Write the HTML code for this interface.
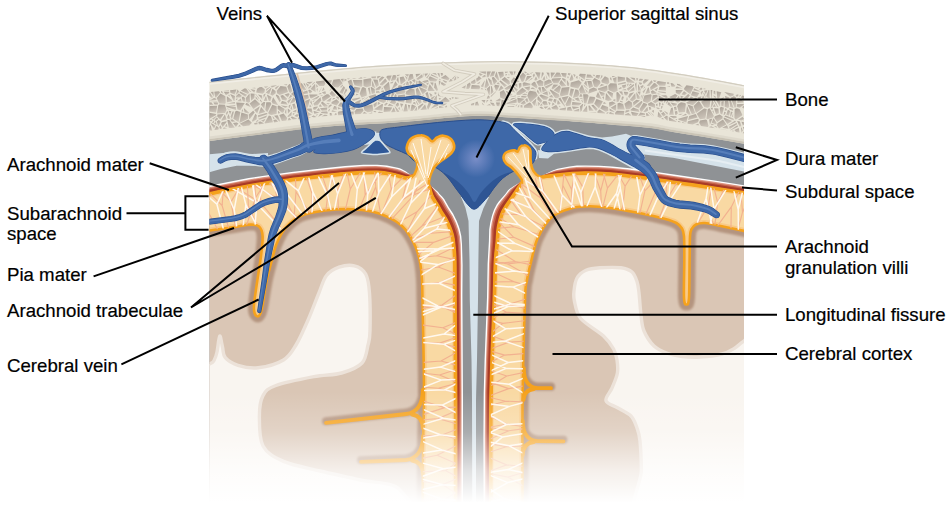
<!DOCTYPE html>
<html lang="en"><head><meta charset="utf-8"><title>Meninges</title>
<style>html,body{margin:0;padding:0;background:#fff}body{width:949px;height:515px;overflow:hidden;position:relative}</style></head>
<body>
<svg width="949" height="515" viewBox="0 0 949 515" style="position:absolute;left:0;top:0">
<defs>
<clipPath id="ill"><path d="M209.5 0H744V515H209.5Z"/></clipPath>
<path id="saL" d="M195 196.5C197.4 196 200.3 195.5 209.5 193.7C218.7 191.9 237.6 187.8 250 185.7C262.4 183.5 275.5 182 284 180.8C292.5 179.6 290.5 179.8 301 178.6C311.5 177.4 334.3 174.6 347 173.6C359.7 172.6 369 172.2 377 172.4C385 172.6 390.2 174.1 395 175C399.8 175.9 403.1 177.8 406 178C408.9 178.2 410.9 177.5 412.6 176.2C414.3 174.9 415.6 172.3 416.3 170.1C417.1 167.9 417.6 165 417.1 162.8C416.6 160.7 414.6 158.8 413.1 157.2C411.7 155.6 409.4 155.1 408.4 153.4C407.3 151.7 406.3 149.5 406.8 147C407.3 144.5 409.1 140.3 411.5 138.3C413.9 136.3 418.3 135.3 421 135.2C423.7 135 425.6 136.3 427.5 137.4C429.4 138.5 430.5 141.5 432.1 141.5C433.7 141.5 435.1 138.5 437 137.5C438.9 136.5 440.8 135.4 443.2 135.7C445.6 136 449.3 137.3 451.1 139.2C452.9 141.1 454.2 144.6 454.2 147C454.2 149.4 452.7 151.5 451.1 153.4C449.5 155.3 447.2 156.4 444.8 158.2C442.4 160 438.9 162.3 436.8 164.4C434.7 166.5 433.5 168.2 432.3 170.6C431.1 173 430.1 176.1 429.5 178.6C428.9 181.1 428.6 182.6 429 185.5C429.4 188.4 430.6 192.8 431.8 195.8C433.1 198.8 435 201.1 436.5 203.7C438 206.3 439.4 209 441 211.6C442.6 214.2 444.6 216.9 446 219.5C447.4 222.1 448.6 224.8 449.6 227.4C450.6 230 451.5 232.2 452.2 235C452.9 237.8 453.2 239.7 453.6 244C454 248.3 454.6 251.7 454.8 261C455 270.3 454.9 276.8 455 300C455.1 323.2 455.5 363.3 455.6 400C455.7 436.7 455.6 500 455.6 520L422.5 520C422.6 508.3 422.8 470 423 450C423.2 430 423.9 416.7 424 400C424.1 383.3 423.8 366.7 423.5 350C423.2 333.3 422.8 311.7 422.5 300C422.2 288.3 422.4 286.3 422 280C421.6 273.7 421 267.3 420 262C419 256.7 417.7 252.3 416 248C414.3 243.7 412.3 239.7 410 236C407.7 232.3 405.4 229 402 226C398.6 223 394.7 220.2 389.7 217.8C384.7 215.4 378.3 213 372 211.6C365.7 210.2 359.5 209.4 351.7 209.2C343.9 209 333.4 209.4 325 210.5C316.6 211.6 307.7 212.8 301 215.8C294.3 218.8 289.1 223.9 285 228.6C280.9 233.3 278.6 239.1 276.5 244C274.4 248.9 274.1 252 272.5 258C270.9 264 268.4 272.2 266.8 280C265.2 287.8 263.6 299.5 262.6 305C261.6 310.5 261.4 311.1 260.6 313C259.8 314.9 258.8 316.5 257.8 316.5C256.8 316.5 255.2 314.9 254.6 313C254 311.1 253.6 310.4 254 305C254.4 299.6 256.1 288.8 257.3 280.6C258.5 272.4 260.1 263.4 261 256C261.9 248.6 262.9 240.9 262.6 236C262.3 231.1 261 228.4 259 226.5C257 224.6 254.8 224.5 250.6 224.6C246.4 224.7 240.8 226 234 227C227.2 228 216 229.6 209.5 230.5C203 231.4 197.4 232.2 195 232.5Z"/><path id="saR" d="M491 520C491 500 490.4 436.7 491 400C491.6 363.3 493.6 323.2 494.3 300C495.1 276.8 495 270.5 495.5 261C496 251.5 496.7 248.8 497.2 243.2C497.7 237.6 497.5 232.7 498.5 227.4C499.5 222.1 500.5 216.9 503 211.6C505.5 206.3 510.1 200.7 513.3 195.8C516.5 191 521.2 186.1 522 182.5C522.8 178.9 519.6 176.9 518 174.5C516.4 172.1 514.2 169.9 512.2 168C510.2 166.1 507.3 164.9 505.9 163.2C504.4 161.5 503.6 159.6 503.5 158C503.4 156.4 504.1 154.6 505 153.5C505.9 152.4 507.4 151.7 509 151.2C510.6 150.7 513 150.2 514.5 150.3C516 150.4 516.8 152.2 517.7 151.6C518.6 151 519 148.1 520 147C521 145.9 522.7 145.2 524 145.2C525.3 145.1 526.9 145.8 528 146.7C529.1 147.6 530 148.4 530.4 150.6C530.8 152.8 530.3 157.1 530.6 160C530.9 162.9 531.1 165.6 532 168C532.9 170.4 534.3 172.8 536 174.3C537.7 175.8 538.2 176.9 542.2 177C546.2 177.1 553.9 175.4 560 174.8C566.1 174.2 570.7 173.3 579 173.2C587.3 173.1 598.2 173.1 610 174C621.8 174.9 639.5 177.3 650 178.7C660.5 180.1 664.7 181 673 182.2C681.3 183.4 688.2 184.2 700 186C711.8 187.8 734 191.2 744 192.8C754 194.4 757.3 195.1 760 195.5L760 234.5C757.3 233.9 750.6 232.3 744 230.9C737.4 229.5 727.1 227.3 720.6 226C714.1 224.7 708.9 223.2 704.8 223C700.7 222.8 698.2 223.4 696 224.5C693.8 225.6 692.4 227.3 691.4 229.3C690.4 231.3 690.3 231.3 690 236.4C689.7 241.5 689.8 249.7 689.6 260C689.4 270.3 689.5 290.6 689 298C688.5 305.4 687.3 304.5 686.5 304.5C685.7 304.5 684.4 305.4 684 298C683.6 290.6 684.3 270.3 684.3 260C684.3 249.7 684.4 241.7 684 236.4C683.6 231.2 683.3 230.7 682 228.5C680.7 226.3 679.2 224.6 676.4 223C673.6 221.4 671.1 220.6 665.3 219C659.5 217.4 650.8 215.3 641.6 213.5C632.4 211.7 618.6 209.2 610 208C601.4 206.8 596.3 206.3 590 206.3C583.7 206.3 578.4 206.2 572 208C565.6 209.8 557.4 212 551.7 217C546 222 541.2 230.8 537.8 238C534.4 245.2 533.3 253 531.5 260C529.7 267 528.1 273.3 527 280C525.9 286.7 525.7 280 525 300C524.3 320 523 363.3 522.6 400C522.2 436.7 522.6 500 522.6 520Z"/>
<clipPath id="cSaL"><use href="#saL"/></clipPath>
<clipPath id="cSaR"><use href="#saR"/></clipPath>
<linearGradient id="fade" x1="0" y1="0" x2="0" y2="1"><stop offset="0" stop-color="#fff" stop-opacity="0"/><stop offset="0.36" stop-color="#fff" stop-opacity="0.24"/><stop offset="0.7" stop-color="#fff" stop-opacity="0.72"/><stop offset="1" stop-color="#fff" stop-opacity="1"/></linearGradient>
<radialGradient id="sinHi" cx="476" cy="158.5" r="19" gradientUnits="userSpaceOnUse"><stop offset="0" stop-color="#7a8ec8"/><stop offset="1" stop-color="#7a8ec8" stop-opacity="0"/></radialGradient>
<filter id="b1" x="-20%" y="-20%" width="140%" height="140%"><feGaussianBlur stdDeviation="0.8"/></filter>
<linearGradient id="cg" x1="0" y1="0" x2="0.3" y2="1"><stop offset="0" stop-color="#a9a096"/><stop offset="1" stop-color="#cbc3b8"/></linearGradient>
</defs>
<rect width="949" height="515" fill="#fff"/>
<g clip-path="url(#ill)">
<rect x="200" y="100" width="560" height="420" fill="#8f9295"/>
<path d="M195 196.5C197.4 196 200.3 195.5 209.5 193.7C218.7 191.9 237.6 187.8 250 185.7C262.4 183.5 275.5 182 284 180.8C292.5 179.6 290.5 179.8 301 178.6C311.5 177.4 334.3 174.6 347 173.6C359.7 172.6 369 172.2 377 172.4C385 172.6 390.2 174.1 395 175C399.8 175.9 403.1 177.8 406 178C408.9 178.2 408.8 174.9 412.6 176.2C416.4 177.4 425.8 182.2 429 185.5C432.2 188.8 430.6 192.8 431.8 195.8C433.1 198.8 435 201.1 436.5 203.7C438 206.3 439.4 209 441 211.6C442.6 214.2 444.6 216.9 446 219.5C447.4 222.1 448.6 224.8 449.6 227.4C450.6 230 451.5 232.2 452.2 235C452.9 237.8 453.2 239.7 453.6 244C454 248.3 454.6 251.7 454.8 261C455 270.3 454.9 276.8 455 300C455.1 323.2 455.5 363.3 455.6 400C455.7 436.7 455.6 500 455.6 520L455.6 520L195 520Z" fill="#dac6b5"/>
<path d="M491 520C491 500 490.4 436.7 491 400C491.6 363.3 493.6 323.2 494.3 300C495.1 276.8 495 270.5 495.5 261C496 251.5 496.7 248.8 497.2 243.2C497.7 237.6 497.5 232.7 498.5 227.4C499.5 222.1 500.5 216.9 503 211.6C505.5 206.3 510.1 200.7 513.3 195.8C516.5 191 517.2 185.6 522 182.5C526.8 179.4 535.9 178.3 542.2 177C548.5 175.7 553.9 175.4 560 174.8C566.1 174.2 570.7 173.3 579 173.2C587.3 173.1 598.2 173.1 610 174C621.8 174.9 639.5 177.3 650 178.7C660.5 180.1 664.7 181 673 182.2C681.3 183.4 688.2 184.2 700 186C711.8 187.8 734 191.2 744 192.8C754 194.4 757.3 195.1 760 195.5L760 520L490.5 520Z" fill="#dac6b5"/>
<path d="M339 267.2C343.6 265.6 349.9 264.7 354.3 265.8C358.8 266.9 363.2 269.5 365.7 274C368.2 278.5 368.8 283.5 369.5 293C370.2 302.5 370.2 322.3 370 331C369.8 339.7 369.3 339.7 368 345C366.7 350.3 366.4 358.3 362 363C357.6 367.7 349.6 370.7 341.6 373C333.6 375.3 324.8 374.6 313.8 376.7C302.9 378.8 284.4 382.4 275.9 385.5C267.4 388.6 265.8 390.5 263 395.6C260.2 400.7 259.4 407.6 259.4 416C259.4 424.4 259 438.4 263 446C267 453.6 274 457.2 283.5 461.4C293 465.6 307.2 467.9 320 471C332.8 474.1 346.7 476.8 360 480C373.3 483.2 393.3 481.7 400 490C406.7 498.3 435 523.3 400 530C365 536.7 225 556.3 190 530C155 503.7 186.8 399.7 190 372C193.2 344.3 205.5 365.9 209.5 364C213.5 362.1 212.8 362.5 214 360.5C215.2 358.5 216.1 356.1 217 352C217.9 347.9 218.8 336.8 219.7 336C220.6 335.2 221.6 343.4 222.5 347C223.4 350.6 222.7 354.6 225.3 357.7C227.9 360.8 232.6 363.6 238 365.3C243.4 367 250.4 368.7 258 367.8C265.6 366.9 277.2 363.8 283.5 360C289.8 356.2 291.8 351.9 296 345C300.2 338.1 304.9 327.2 308.7 318.5C312.5 309.8 315.9 300.2 318.9 293C321.9 285.8 323.1 279.8 326.5 275.5C329.9 271.2 334.4 268.8 339 267.2Z" fill="#f9f5f0" stroke="#ece2d9" stroke-width="3.4"/>
<path d="M574 291C574.4 287.2 575 281.4 577 278C579 274.6 582.2 272 586 270.3C589.8 268.6 594.2 268.2 600 267.8C605.8 267.4 615.7 267.1 621 267.8C626.3 268.5 629.3 269.7 632 272C634.7 274.3 635.8 278 637 281.5C638.2 285 638.3 287.4 639 293C639.7 298.6 640.2 308.7 641 315C641.8 321.3 641.8 325.8 644 331C646.2 336.2 650 342.2 654 346C658 349.8 663.3 351.8 668 353.5C672.7 355.2 676.7 355.9 682 356.5C687.3 357.1 693.3 357.4 700 357C706.7 356.6 716.2 355.5 722 354C727.8 352.5 731.3 350.2 735 348C738.7 345.8 739 344 744 341C749 338 761.5 298.5 765 330C768.5 361.5 785.7 496.7 765 530C744.3 563.3 661.6 540 641 530C620.4 520 641.6 484.8 641.4 470C641.2 455.2 640.7 448 640 441C639.3 434 638.5 432.2 637 428C635.5 423.8 634.2 419.3 631 416C627.8 412.7 622.2 410.6 618 408C613.8 405.4 607 404 606 400.7C605 397.4 610.1 392.6 612 388C613.9 383.4 616.6 377.7 617.4 373C618.2 368.3 617.6 364 617 360C616.4 356 615.9 353 613.6 349C611.4 345 609 341.1 603.5 336C598 330.9 585.6 324.3 580.7 318.5C575.9 312.7 575.5 305.6 574.4 301C573.3 296.4 573.6 294.8 574 291Z" fill="#f9f5f0" stroke="#ece2d9" stroke-width="3.4"/>
<g fill="none" stroke="#b4947f" stroke-linecap="round" stroke-linejoin="round" filter="url(#b1)">
<path d="M195 232.5C197.4 232.2 203 231.4 209.5 230.5C216 229.6 227.2 228 234 227C240.8 226 246.4 224.7 250.6 224.6C254.8 224.5 257 224.6 259 226.5C261 228.4 262.3 231.1 262.6 236C262.9 240.9 261.9 248.6 261 256C260.1 263.4 258.5 272.4 257.3 280.6C256.1 288.8 254.4 299.6 254 305C253.6 310.4 254 311.1 254.6 313C255.2 314.9 256.8 316.5 257.8 316.5C258.8 316.5 259.8 314.9 260.6 313C261.4 311.1 261.6 310.5 262.6 305C263.6 299.5 265.2 287.8 266.8 280C268.4 272.2 270.9 264 272.5 258C274.1 252 274.4 248.9 276.5 244C278.6 239.1 280.9 233.3 285 228.6C289.1 223.9 294.3 218.8 301 215.8C307.7 212.8 316.6 211.6 325 210.5C333.4 209.4 343.9 209 351.7 209.2C359.5 209.4 365.7 210.2 372 211.6C378.3 213 384.7 215.4 389.7 217.8C394.7 220.2 398.6 223 402 226C405.4 229 407.7 232.3 410 236C412.3 239.7 414.3 243.7 416 248C417.7 252.3 419 256.7 420 262C421 267.3 421.6 273.7 422 280C422.4 286.3 422.2 288.3 422.5 300C422.8 311.7 423.2 333.3 423.5 350C423.8 366.7 424.1 383.3 424 400C423.9 416.7 423.2 430 423 450C422.8 470 422.6 508.3 422.5 520" stroke-width="12"/>
<path d="M522.6 520C522.6 500 522.2 436.7 522.6 400C523 363.3 524.3 320 525 300C525.7 280 525.9 286.7 527 280C528.1 273.3 529.7 267 531.5 260C533.3 253 534.4 245.2 537.8 238C541.2 230.8 546 222 551.7 217C557.4 212 565.6 209.8 572 208C578.4 206.2 583.7 206.3 590 206.3C596.3 206.3 601.4 206.8 610 208C618.6 209.2 632.4 211.7 641.6 213.5C650.8 215.3 659.5 217.4 665.3 219C671.1 220.6 673.6 221.4 676.4 223C679.2 224.6 680.7 226.3 682 228.5C683.3 230.7 683.6 231.2 684 236.4C684.4 241.7 684.3 249.7 684.3 260C684.3 270.3 683.6 290.6 684 298C684.4 305.4 685.7 304.5 686.5 304.5C687.3 304.5 688.5 305.4 689 298C689.5 290.6 689.4 270.3 689.6 260C689.8 249.7 689.7 241.5 690 236.4C690.3 231.3 690.4 231.3 691.4 229.3C692.4 227.3 693.8 225.6 696 224.5C698.2 223.4 700.7 222.8 704.8 223C708.9 223.2 714.1 224.7 720.6 226C727.1 227.3 737.4 229.5 744 230.9C750.6 232.3 757.3 233.9 760 234.5" stroke-width="12"/>
<path d="M422.8 390Q422.5 412 406 414L326 422.8" stroke-width="8" transform="translate(0,-1.6)"/>
<path d="M423 436Q422.5 458 406 460L361 461.8" stroke-width="8" transform="translate(0,-1.6)"/>
<path d="M523.8 368Q524 387 537 388L551 388.2" stroke-width="8" transform="translate(0,-1.6)"/>
<path d="M522.8 421Q523 440 537 441L563.5 441.3" stroke-width="8" transform="translate(0,-1.6)"/>
</g>
<path d="M195 156.2L209.5 154.3L228.7 152.6L252.4 154L268 153L268 165L252.4 165.8L236.6 165.8L220.8 169L209.4 172.2L195 175Z" fill="#d5e2ea"/>
<path d="M220.5 160.6C221.6 160.1 224.3 158 227 157.3C229.7 156.7 232.9 156.3 236.6 156.7C240.3 157.1 244.8 158.7 249.3 159.5C253.8 160.3 259.1 161.5 263.5 161.4C267.9 161.3 271.8 159.9 276 158.7C280.2 157.5 284.8 155.4 288.8 154C292.8 152.6 296.7 151.3 299.8 150C302.9 148.7 303.8 147.2 307.7 146C311.6 144.8 318.2 143.3 323.5 142.5C328.8 141.7 333.3 141.4 339.4 141C345.5 140.6 353.6 140.5 360 140C366.4 139.5 375 138.3 378 138" fill="none" stroke="#d5e2ea" stroke-width="10.6" stroke-linecap="round"/>
<path d="M518 130.6L534.9 144.6L537.2 145.6L539.4 145.6L541.5 144.9L539.8 148.2L540.1 150.2L538 150L539 158L548 158.5L554 153.7L564.7 152.6L585.8 149.3L593.2 149.3L598.6 150.5L606.8 154.1L639.8 172.4L641.2 172L642 171.1L642.2 162.7L644 161.3L645.1 159L645 156.5L643.8 154.5L673 157.8L765 175.5L765 168.6L766.7 168.3L768.5 167.3L770.1 164.2L769.5 160.8L766.8 158.5L725.8 147.9L713.1 145.2L703.7 144.1L689.4 143.5L677.1 142.2L636.4 135.1L633.5 135.1L630.9 135.8L626 133.8L612 136.5L602.1 137.6L589 135.6L568.3 129.4L561.2 129.9L555.4 132.3L553.5 129.6L550.6 127.3L546.8 125.5L543.6 124.6L531.4 122.6L520 121.6L513.7 122L512.3 122.9L511.6 124L508.4 121.7L503 120.2L501.6 120.8L501 122.2L501 158L502.1 159.8L535.3 160L537.1 159L538 153.6L537.7 151.5L535.9 148.2L531 142.6Z" fill="#d5e2ea"/>
<path d="M645 150.5C649.7 151.2 663.8 153.2 673 154.5C682.2 155.8 692.2 157.1 700 158.2C707.8 159.3 712.7 159.8 720 161.3C727.3 162.8 736.5 165.2 744 167C751.5 168.8 761.5 171.2 765 172" fill="none" stroke="#e6eef3" stroke-width="2"/>
<path d="M461 197L465.5 208L468.5 221L469.5 260L469.8 300L471.5 360L472 400L472.3 520L476 520L476 400L477 360L478 300L478.4 260L479 221L483.5 208L489 197Z" fill="#d5e2ea"/>
<path d="M379.8 133.8C380.1 132 379.6 130.5 383 129.3C386.4 128.2 392.2 127.9 400 126.9C407.8 125.9 420 124.3 430 123.3C440 122.2 451.7 121.2 460 120.6C468.3 120 474.2 119.7 480 119.8C485.8 119.9 490.4 120.4 495 121C499.6 121.6 504.3 122.1 507.5 123.5C510.7 124.9 511.8 127.5 514 129.6C516.2 131.7 518.4 133.8 520.5 135.8C522.6 137.8 524.9 139.7 526.8 141.5C528.7 143.3 530.5 144.8 532 146.6C533.5 148.4 535.3 150.1 535.8 152.2C536.3 154.3 535.8 156.9 535 159C534.2 161.1 533.2 163.5 531 165C528.8 166.5 525 166.9 522 168C519 169.1 515.6 170.2 513 171.5C510.4 172.8 508.5 174.1 506.5 175.5C504.5 176.9 503.1 177.9 501 180C498.9 182.1 496.1 185.4 494 188C491.9 190.6 490.5 193.3 488.5 195.8C486.5 198.3 484 201.1 482 203.2C480 205.3 478.2 207.5 476.5 208.4C474.8 209.3 473.8 209.6 472 208.6C470.2 207.6 467.8 204.6 466 202.5C464.2 200.4 463.1 198.2 461.4 195.8C459.6 193.4 457.4 190.6 455.5 188C453.6 185.4 451.9 182.6 449.8 180C447.7 177.4 445.6 174.7 443 172.5C440.4 170.3 436.8 168.2 434.3 166.6C431.8 165 431.2 163.8 428 163C424.8 162.2 418.8 162.9 415.3 161.5C411.8 160.1 410.2 156.3 407 154.3C403.8 152.3 399.3 151.1 396 149.5C392.7 147.9 389.4 146.6 387 145C384.6 143.4 382.7 141.9 381.5 140C380.3 138.1 379.6 135.6 379.8 133.8Z" fill="#3e68a8" stroke="#2a4f8e" stroke-width="1"/>
<path d="M443 172.5C443.5 172.2 449.8 175.8 453 178C456.2 180.2 459.3 182.8 462 185.5C464.7 188.2 466.9 191.2 469 194C471.1 196.8 472.7 202 474.5 202C476.3 202 477.8 196.8 480 194C482.2 191.2 484.8 187.9 488 185C491.2 182.1 494.8 178.8 499 176.5C503.2 174.2 511.8 171.7 513 171.5C514.2 171.3 508.5 174.1 506.5 175.5C504.5 176.9 503.1 177.9 501 180C498.9 182.1 496.1 185.4 494 188C491.9 190.6 490.5 193.3 488.5 195.8C486.5 198.3 484 201.1 482 203.2C480 205.3 478.2 207.5 476.5 208.4C474.8 209.3 473.8 209.6 472 208.6C470.2 207.6 467.8 204.6 466 202.5C464.2 200.4 463.1 198.2 461.4 195.8C459.6 193.4 457.4 190.6 455.5 188C453.6 185.4 451.9 182.6 449.8 180C447.7 177.4 442.5 172.8 443 172.5Z" fill="#2a4f8e" opacity="0.75"/>
<circle cx="476" cy="158.5" r="19" fill="url(#sinHi)"/>
<path d="M361.5 152.8C360.8 152.1 366.9 147.6 368 146.5C369.1 145.4 374 140.7 375 140.2C376 139.7 379.2 140 380 140.5C380.8 141 384.2 145 385 146C385.8 147 390.8 151.9 390 152.6C389.2 153.3 378.4 154.6 376 154.6C373.6 154.6 362.2 153.5 361.5 152.8Z" fill="#2f5898" stroke="#d5e2ea" stroke-width="1.5"/>
<path d="M375.5 131.5L374.6 140" stroke="#d5e2ea" stroke-width="1.8" fill="none"/>
<path d="M196.5 204.1L242.4 194.9L259.7 191.9L294.4 187.1L343.6 181.6L364.1 180.2L372 180L378.5 180.2L384.5 180.8L395.1 182.8L406 184.5L409.1 183.5L411.3 181.1L412.4 178.8L413.2 177.7L413.9 177.2L414.2 176.4L414.1 175.6L413.6 174.9L412.8 174.6L412 174.7L410.6 174.5L408.6 173.5L406 171.4L401 168.8L398.9 168.1L386.9 165.6L377.3 164.7L363.4 164.8L345 166L325.8 168L291.3 172L262.5 176L248.7 178.1L193.5 188.9L190 190.7L187.7 194L187.4 198L189.2 201.5L192.5 203.8Z" fill="#fff"/>
<path d="M196.2 202.7L242.1 193.6L259.5 190.6L294.2 185.7L343.5 180.2L364 178.8L372 178.6L378.6 178.8L386.1 179.6L401.9 182.8L406 183.4L409 182.5L411.2 180.6L412.4 178.7L413.9 177.2L414.2 176.4L414.1 175.6L413.6 174.9L412.8 174.6L410.7 174.6L408.8 174L400.6 170.1L396.3 168.8L385 166.7L375.9 166.1L362 166.3L345.2 167.4L325.9 169.4L292.6 173.2L262.7 177.3L248.9 179.5L193.8 190.3L190.9 191.7L189 194.4L188.8 197.7L190.2 200.6L192.9 202.5Z" fill="#dd9480"/>
<path d="M196 201.6L240.3 192.8L254.2 190.3L292.9 184.8L317 182L349.3 178.6L362.5 177.8L373.3 177.5L378.7 177.7L384.9 178.3L402.1 181.9L406 182.5L408.8 181.8L411 180.2L412.3 178.5L413.9 177.2L414.2 176.4L414.1 175.6L413.6 174.9L412.8 174.6L410.7 174.7L409 174.4L404.7 173L398.3 170.5L388.1 168.3L379.2 167.3L367.9 167.2L353.9 167.9L339.4 169.1L315.8 171.6L291.6 174.5L252.6 180L238.3 182.6L194 191.4L191.6 192.6L190.1 194.8L189.9 197.5L191.1 199.9L193.3 201.4Z" fill="#c4624a"/>
<path d="M195.7 200.3L240.1 191.5L255.7 188.7L292.8 183.5L328.8 179.3L344.7 177.7L356.2 176.8L368.1 176.3L376.9 176.3L382.1 176.7L386.5 177.3L396 179.2L402.4 180.9L406 181.4L408.7 180.9L410.8 179.7L413.9 177.2L414.2 176.4L414.1 175.6L413.6 174.9L412.8 174.6L409.1 174.9L406 174.6L399.9 172.3L395.8 171.2L386.3 169.3L379.2 168.6L369.3 168.5L357.3 168.9L344 169.9L327.9 171.6L291.8 175.8L254.5 181L238.6 183.9L194.3 192.7L192.4 193.6L191.3 195.2L191.2 197.2L192.1 199.1L193.7 200.2Z" fill="#a83a26"/>
<path d="M427.5 185.1L427.4 186.9L424.7 194.5L424.5 196.6L424.9 198.7L428.8 208.3L433.3 216.3L438.1 223.8L442.9 234.7L444.8 241.4L446.9 256.8L447.5 282.8L448.1 376.4L448.2 520L449.2 523.7L451.9 526.4L455.6 527.4L459.3 526.4L462 523.7L463 520L463 400L462.4 294.9L462.6 265.1L462 244.3L461.3 236L459.7 229.1L458.6 225.7L456.6 220.7L453 213.5L448.7 206.9L444.2 199.1L442.1 196.4L439.3 193.8L438.1 192.1L432.2 187.1L431.1 186L430.2 184.4L429.4 184L428.6 183.9L427.9 184.3Z" fill="#fff"/>
<path d="M427.5 185.1L427.4 186.9L425.5 194.2L425.5 196.3L425.9 198.3L430 207.6L434.5 215.5L440 224.5L444.3 234.2L446.2 241.3L448.3 256.7L448.9 282.8L449.5 376.4L449.6 520L450.4 523L452.6 525.2L455.6 526L458.6 525.2L460.8 523L461.6 520L461.6 400L461 294.9L461.2 265.1L460.7 244.4L459.9 236.3L458.3 229.5L456 222.9L452.7 215.9L447.5 207.7L443 199.8L442 198.4L438.3 194.3L437.1 192.4L432 187.2L431.1 186L430.2 184.4L429.4 184L428.6 183.9L427.9 184.3Z" fill="#dd9480"/>
<path d="M427.5 185.1L427.5 186.9L426.4 194L426.4 196L426.9 197.8L431.1 206.9L435.7 214.8L439.9 221.4L441.2 223.9L445.5 233.8L447.4 241.1L449.2 254.9L449.6 261.1L449.9 278.1L450.5 374.7L450.6 520L451.3 522.5L453.1 524.3L455.6 525L458.1 524.3L459.9 522.5L460.6 520L460.6 408.7L459.9 297.4L460.1 266.1L459.4 244.6L458.6 236.5L457.1 229.9L454.7 223.4L451.5 216.5L446.3 208.4L441.9 200.5L437.3 194.8L436.1 192.8L431 186L430.2 184.4L429.4 184L428.6 183.9L427.9 184.3Z" fill="#c4624a"/>
<path d="M427.5 185.1L427.4 193.7L427.6 195.6L428.1 197.3L430.5 202.2L435.5 211.2L442.8 223.1L447.5 234.6L448.9 240.9L450.6 254.8L451.1 272.8L451.8 379.8L451.9 520L452.4 521.9L453.7 523.2L455.6 523.7L457.5 523.2L458.8 521.9L459.3 520L459.4 404.2L458.7 297.4L458.8 266.2L458.5 254.3L458 245.9L457.1 236.8L456 232.2L453.8 225.7L450.9 219L449.1 215.8L444.9 209.2L440.4 201.4L436 195.4L430.2 184.4L429.4 184L428.6 183.9L427.9 184.3Z" fill="#a83a26"/>
<path d="M498.4 520L498.2 438.3L498.5 393.4L499.7 353.3L502.5 276.9L503.4 259.1L504 253.7L505.4 245.5L506.7 232.9L508.5 223.2L510.1 217.9L512.1 213.4L515.4 206.9L519.6 199.9L521.1 196.5L521.9 192.6L522.7 185.5L523.6 182.6L523.4 181.8L522.9 181.2L522.1 180.9L521.3 181.1L519 183.1L512.8 186.7L509.5 189L508.1 190.3L505.4 193.9L498.8 201.5L496.7 204.5L494 209.7L492 215.4L490.3 222.5L489.2 229.5L488.9 240.9L487.6 263.9L487 297.2L484.6 359.3L483.7 393.2L483.4 438.3L483.6 520L484.6 523.7L487.3 526.4L491 527.4L494.7 526.4L497.4 523.7Z" fill="#fff"/>
<path d="M497 520L496.8 438.3L497.1 393.4L498.3 353.2L501.1 276.9L502 259L502.6 253.5L504 245.4L505.5 231.4L507.5 221.4L508.8 217.4L510.9 212.7L514.4 206.2L518.6 199.3L520.2 196L521.3 192.2L522.6 185.4L523.6 182.6L523.4 181.8L522.9 181.2L522.1 180.9L521.3 181.1L519.1 183.1L513.4 187.1L510.3 189.5L509 190.9L506.3 194.6L501 200.9L497.9 205.2L495.3 210.2L493.3 215.8L491.7 222.7L490.6 229.7L490.3 241L489 263.9L488.4 297.2L486 359.4L485.1 393.2L484.8 438.3L485 520L485.8 523L488 525.2L491 526L494 525.2L496.2 523Z" fill="#dd9480"/>
<path d="M496 520L495.7 440.1L496 395.1L497.2 354.8L500.9 258.9L501.5 253.4L502.8 245.3L504.2 231.2L506.2 221.1L507.5 216.9L509.7 212L513.5 205.5L517.7 198.7L519.4 195.5L522.5 185.4L523.6 182.6L523.4 181.8L522.9 181.2L522.1 180.9L521.3 181.1L519.2 183.2L511.2 190.1L502.1 201.6L499.1 205.9L496.5 210.8L494.6 216.1L493 223L491.9 229.8L491.6 241.1L490.1 264L489.4 297.2L487.1 359.4L486.2 391.5L485.8 436.6L486 520L486.7 522.5L488.5 524.3L491 525L493.5 524.3L495.3 522.5Z" fill="#c4624a"/>
<path d="M494.7 520L494.5 438.3L494.9 393.4L496 354.8L499 269.6L499.7 256.7L501.3 245.1L502.5 231L503.6 225.1L505 219.2L506.5 214.9L508.3 211.2L511.4 206L517.5 196.4L519.2 193.1L523.6 182.6L523.4 181.8L522.9 181.2L522.1 180.9L521.3 181.1L520.7 181.6L512.2 190.7L503.4 202.5L500.5 206.7L498.1 211.4L496.3 216.6L494.6 223.3L493.6 230L493.1 241.2L492 254.2L491.4 264L490.6 299.9L488.4 357.8L487.4 389.8L487 434.8L487.3 520L487.8 521.9L489.1 523.2L491 523.7L492.9 523.2L494.2 521.9Z" fill="#a83a26"/>
<path d="M541.6 178.5L544.6 178.7L555.2 181L559 181.3L568 180.9L594.6 180.9L607.7 181.5L621.3 182.8L652.8 186.9L671.9 189.8L696.9 193.3L741.7 200.2L758.7 203.1L762.7 202.7L765.9 200.4L767.6 196.8L767.2 192.8L764.9 189.6L761.3 187.9L714.5 180.4L674.1 174.6L656.7 171.9L629.8 168.3L612 166.4L600 165.7L585.7 165.4L576.8 165.6L569.5 166.5L557.6 168.7L552.1 170.7L544.1 174.7L541.2 175.7L540.7 176.4L540.6 177.2L540.9 178Z" fill="#fff"/>
<path d="M541.6 178.5L544.6 178.6L557 180.2L569.3 179.6L591.5 179.5L606.1 180L618.3 181.1L654.7 185.7L672.1 188.4L712.4 194.3L758.9 201.7L762.2 201.4L764.8 199.5L766.2 196.6L765.9 193.3L764 190.7L761.1 189.3L714.3 181.8L673.9 176L656.5 173.2L627.9 169.5L610.5 167.7L598.2 167L585.7 166.8L576.8 167L569.6 167.7L555.9 170.2L552.2 171.5L544.1 174.8L542 175.4L541.2 175.7L540.7 176.4L540.6 177.2L540.9 178Z" fill="#dd9480"/>
<path d="M541.6 178.5L556.9 179.4L569.2 178.6L584.3 178.3L597.8 178.5L609.6 179.2L626.5 180.9L654.9 184.6L672.2 187.3L712.5 193.2L759.1 200.6L761.8 200.4L764 198.8L765.1 196.4L764.9 193.7L763.3 191.5L760.9 190.4L714.1 182.9L673.8 177.1L656.4 174.3L627.8 170.6L610.4 168.8L599.9 168.2L587.1 167.9L576.8 168.1L569.7 168.8L556 171L542 175.4L541.2 175.7L540.7 176.4L540.6 177.2L540.9 178Z" fill="#c4624a"/>
<path d="M541.6 178.5L556.8 178.5L570.5 177.4L581.6 177.1L596.3 177.2L609.7 177.9L626.7 179.6L655.1 183.3L672.4 186.1L712.7 191.9L759.3 199.3L761.3 199.2L763 198L763.8 196.2L763.7 194.2L762.5 192.5L760.7 191.7L753.8 190.5L706 183L673.6 178.3L654.4 175.4L627.6 171.9L610.3 170.1L599.8 169.5L587.1 169.2L576.9 169.4L569.8 170L556.1 171.9L542 175.4L541.2 175.7L540.7 176.4L540.6 177.2L540.9 178Z" fill="#a83a26"/>
<use href="#saL" fill="#f9d9a3"/>
<use href="#saL" fill="none" stroke="#f8c077" stroke-width="6" opacity="0.6" clip-path="url(#cSaL)"/>
<use href="#saL" fill="none" stroke="#f5a21d" stroke-width="2.6" stroke-linejoin="round"/>
<use href="#saR" fill="#f9d9a3"/>
<use href="#saR" fill="none" stroke="#f8c077" stroke-width="6" opacity="0.6" clip-path="url(#cSaR)"/>
<use href="#saR" fill="none" stroke="#f5a21d" stroke-width="2.6" stroke-linejoin="round"/>
<path d="M195 196.5C197.4 196 200.3 195.5 209.5 193.7C218.7 191.9 237.6 187.8 250 185.7C262.4 183.5 275.5 182 284 180.8C292.5 179.6 290.5 179.8 301 178.6C311.5 177.4 334.3 174.6 347 173.6C359.7 172.6 369 172.2 377 172.4C385 172.6 390.2 174.1 395 175C399.8 175.9 403.1 177.8 406 178C408.9 178.2 411.5 176.5 412.6 176.2" fill="none" stroke="#f5a21d" stroke-width="3.6"/>
<path d="M429 185.5C429.5 187.2 430.6 192.8 431.8 195.8C433.1 198.8 435 201.1 436.5 203.7C438 206.3 439.4 209 441 211.6C442.6 214.2 444.6 216.9 446 219.5C447.4 222.1 448.6 224.8 449.6 227.4C450.6 230 451.5 232.2 452.2 235C452.9 237.8 453.2 239.7 453.6 244C454 248.3 454.6 251.7 454.8 261C455 270.3 454.9 276.8 455 300C455.1 323.2 455.5 363.3 455.6 400C455.7 436.7 455.6 500 455.6 520" fill="none" stroke="#f5a21d" stroke-width="3.6"/>
<path d="M491 520C491 500 490.4 436.7 491 400C491.6 363.3 493.6 323.2 494.3 300C495.1 276.8 495 270.5 495.5 261C496 251.5 496.7 248.8 497.2 243.2C497.7 237.6 497.5 232.7 498.5 227.4C499.5 222.1 500.5 216.9 503 211.6C505.5 206.3 510.1 200.7 513.3 195.8C516.5 191 520.5 184.7 522 182.5" fill="none" stroke="#f5a21d" stroke-width="3.6"/>
<path d="M542.2 177C545.2 176.6 553.9 175.4 560 174.8C566.1 174.2 570.7 173.3 579 173.2C587.3 173.1 598.2 173.1 610 174C621.8 174.9 639.5 177.3 650 178.7C660.5 180.1 664.7 181 673 182.2C681.3 183.4 688.2 184.2 700 186C711.8 187.8 734 191.2 744 192.8C754 194.4 757.3 195.1 760 195.5" fill="none" stroke="#f5a21d" stroke-width="3.6"/>
<g fill="none" stroke="#f5a21d" stroke-width="3.8" stroke-linecap="round">
<path d="M422.8 390Q422.5 412 406 414L326 422.8"/>
<path d="M423 436Q422.5 458 406 460L361 461.8"/>
<path d="M523.8 368Q524 387 537 388L551 388.2"/>
<path d="M522.8 421Q523 440 537 441L563.5 441.3"/>
<path d="M422.8 428Q422.5 416 412 414.5"/><path d="M422.8 474Q422.5 462 412 460.5"/><path d="M523.5 400Q524 390 534 389"/><path d="M522.8 455Q523 443 534 442"/>
</g>
<g clip-path="url(#cSaL)" fill="none" stroke-linecap="round" stroke-linejoin="round">
<path d="M280.2 226.7L260.7 202.7L236.8 188.1M260.7 202.7L260.4 184.3M299.9 220L276.7 197.7L252.8 185.1M276.7 197.7L274.5 182.6M294.8 217.8L284.2 196.6L269.4 182.8M284.2 196.6L283.5 180.9M295.5 179.2L296 191.8L294.1 216.4M296 191.8L310.4 214.1M306.6 177.9L312.1 193.9L311.3 212.3M312.1 193.9L322.7 211M325.9 210.4L328 193.1L322.4 176.1M328 193.1L333.1 174.8M338.5 209.4L337.4 190.6L329.8 175.3M337.4 190.6L343.9 173.9M345.4 209.7L350.3 189L347.2 173.5M350.3 189L360.3 172.8M358.8 210.4L365.2 194.9L363.8 172.4M365.2 194.9L381.8 172.3M374.7 171.9L375.8 186.8L365.5 211M375.8 186.8L380.4 212.7M381.3 214.4L391.3 189L388.2 173.1M391.3 189L403 177.4M389.3 217.4L402.3 200L408.4 173.8M402.3 200L426.2 184.5M391.7 219.1L414.1 194.8L420.1 180.4M414.1 194.8L432.9 187.6M431.3 195.2L417 211.8L400.1 221.5M417 211.8L406.4 232.8M410.2 236.6L422.2 225.7L437.7 206.2M422.2 225.7L443.4 217M412.2 238.9L431.1 233.2L446.6 220.1M431.1 233.2L452.7 231.6M452.4 235.7L433.6 242.4L414.8 242.3M433.6 242.4L417.8 255.3M419.5 257.6L436.8 255.7L454.1 247.2M436.8 255.7L454.9 259.6M421 270L438.3 267L454.8 257.3M438.3 267L455 273.3M422.1 284.8L440.5 282.3L454.9 275.7M440.5 282.3L454.9 285.1M422.6 308.4L442 305L455 295.8M442 305L455.1 310.9M422.7 305.8L444.2 307.8L455 304.6M444.2 307.8L455.1 312.5M423.1 325.1L442.8 327.8L455.2 322.8M442.8 327.8L455.3 333.9M423.4 342.6L439.7 343.1L455.3 337.8M439.7 343.1L455.3 347M423.7 362.4L441 361L455.4 353M441 361L455.4 364.9M423.9 373.2L439.5 375L455.5 369.7M439.5 375L455.5 381.6M424 387.3L438.3 388.3L455.5 383.6M438.3 388.3L455.6 392.8M455.6 407.1L444.7 407.6L423.9 401.2M444.7 407.6L423.9 414.4M423.7 419.8L438.3 418.6L455.6 411M438.3 418.6L455.6 423.5M423.3 435.9L441.9 435L455.6 429.8M441.9 435L455.6 438.7M423 458.1L437.1 455.2L455.6 446.1M437.1 455.2L455.6 463.2M422.8 471.7L445.4 470.6L455.6 463.5M445.4 470.6L455.6 475.9M422.7 481.5L442.3 484.6L455.6 479.2M442.3 484.6L455.6 493M422.6 500.1L443.3 499.9L455.6 492.9M443.3 499.9L455.6 505.3M455.6 514.8L441.1 512.6L422.6 505.3M441.1 512.6L422.6 516.7" stroke="#f2b190" stroke-width="1.15"/>
<path d="M280.3 228.6L254.8 201.7L232.8 188.9M254.8 201.7L253.7 185.6M298.3 219.7L283.3 204.6L255.9 184.7M283.3 204.6L271.7 182.7M304.2 216.5L286.1 192.8L271 182.5M286.1 192.8L281 181.2M307.6 214L298.4 190.8L285.6 180.4M298.4 190.8L304 178.1M308.8 177.7L312.9 192.1L312.1 212.2M312.9 192.1L322 211M331 209.8L327.7 195.9L318.5 176.6M327.7 195.9L331.9 175M334.4 209.9L337.6 193.9L331.9 175M337.6 193.9L345.9 173.3M355.5 209.5L357.3 189.2L351.2 173.2M357.3 189.2L364.5 172.4M366.6 210.2L367.7 194.4L363.3 172.4M367.7 194.4L377.9 172.3M372.4 211.9L378.8 192.7L378.3 172.1M378.8 192.7L390.7 174.1M380.7 214.4L391.5 197L395.2 174.9M391.5 197L410.3 178.6M388.9 217.2L404.4 196.8L411.5 175.6M404.4 196.8L423.3 181.4M400.8 224L410.8 203.2L416.1 178.2M410.8 203.2L428.2 185.3M406.4 233.6L424.3 208.8L429.3 190.8M424.3 208.8L435.6 204M412.8 240.2L424.3 228.2L438 207.1M424.3 228.2L448 222.2M413.4 242.2L436.7 229L444.9 216.7M436.7 229L449.7 230.3M454 247.9L441 248.9L417.5 248.8M441 248.9L418.6 258.9M453.4 242.3L434 250.8L418.4 251.8M434 250.8L419.4 262.2M454.8 259.5L437.9 264.6L420.9 262.3M437.9 264.6L421.1 275.2M422.2 283.9L439 283.3L454.9 276.1M439 283.3L454.9 290.5M455.1 309.4L439.2 306.6L422.6 298M439.2 306.6L422.7 311.8M455 302.9L441.3 307L422.7 305M441.3 307L422.8 315M423.2 337.9L444 334L455.2 325.3M444 334L455.3 335.4M423.4 342.6L444.1 344.3L455.3 340.4M444.1 344.3L455.3 350.9M423.8 369.3L440.4 367.1L455.4 360.7M440.4 367.1L455.5 371.6M455.5 379.5L441.5 380.1L423.9 374M441.5 380.1L424 387M424 390.5L444.7 389.8L455.5 384.1M444.7 389.8L455.6 392.6M424 404.6L442.3 405.1L455.6 398.5M442.3 405.1L455.6 412.6M455.6 419.9L443.4 418.2L423.7 409.6M443.4 418.2L423.7 424.1M455.6 436.8L440.4 434.7L423.3 428.2M440.4 434.7L423.3 437.9M455.6 453.8L441.8 450L423 441.6M441.8 450L423 453.1M455.6 467.3L443.4 468.8L422.8 463.1M443.4 468.8L422.8 476.3M455.6 485.4L442.6 484.8L422.7 479.2M442.6 484.8L422.7 489.5M455.6 500.3L441.3 499L422.6 492.1M441.3 499L422.6 504.1M422.5 516.8L436.2 516.8L455.6 511.5M436.2 516.8L455.6 521.7" stroke="#fffaf2" stroke-width="1.5" opacity="0.95"/>
</g>
<g clip-path="url(#cSaL)" fill="none" stroke-linecap="round" stroke-linejoin="round">
<path d="M201.7 195.2L206 208L204.1 231.6M206 208L217.4 229M228.5 227.5L222.1 205.5L210.3 193.6M222.1 205.5L223.3 190.2M235.4 226.7L231 201.9L220.8 191.4M231 201.9L238.9 188.2M247.4 186.2L248.4 206L242.7 225.9M248.4 206L256.2 223.4M246.4 225.7L255.5 197.8L254.9 184.9M255.5 197.8L265.1 183" stroke="#f2b190" stroke-width="1.15"/>
<path d="M202.6 231.5L201.4 216L193.8 196.7M201.4 216L202.7 194.8M223.2 228.3L216.9 204.2L205.8 194.5M216.9 204.2L222.7 191.8M236.7 226.6L234.2 209.7L225.8 190.4M234.2 209.7L238.3 187.9M241.5 187.2L245.9 204.7L243.2 225.8M245.9 204.7L255.6 223.5M255.1 224.4L256.6 206L252.5 185.2M256.6 206L264.6 183.1" stroke="#fffaf2" stroke-width="1.5" opacity="0.95"/>
</g>
<g clip-path="url(#cSaR)" fill="none" stroke-linecap="round" stroke-linejoin="round">
<path d="M491 510.8L501 512L522.6 519.7M501 512L522.6 505.6M522.6 505.6L502.4 502.9L491 507.3M502.4 502.9L490.9 497.4M490.8 473.8L507.9 477.1L522.5 485.7M507.9 477.1L522.5 472.8M522.5 466.3L506.6 464.9L490.8 470.8M506.6 464.9L490.8 458.2M522.4 446.2L506.3 446.8L490.8 451.7M506.3 446.8L490.8 443.9M522.4 428.9L508.7 430.8L490.8 438.7M508.7 430.8L490.8 427.7M522.4 426.5L506.8 424L490.8 427M506.8 424L490.8 416.9M522.6 401.9L505.6 401.2L490.9 405.2M505.6 401.2L491.1 397.7M522.8 386.1L508.7 388.6L491.1 395.3M508.7 388.6L491.3 382.6M523.1 372.6L506.8 376L491.3 385.4M506.8 376L491.7 371M523.5 353.6L504.7 355.1L492 361.5M504.7 355.1L492.4 351.6M523.8 341.2L509 342.1L492.4 348.2M509 342.1L492.9 336.2M524.4 320.7L502.9 323.4L493.1 331.2M502.9 323.4L493.6 321.1M524.5 313.3L506.2 312.2L493.7 317.5M506.2 312.2L494.2 304.6M494.1 306L508.2 304.5L524.7 308.2M508.2 304.5L525 299.2M526 285.3L513.6 281.6L494.8 282M513.6 281.6L495.1 273M495.5 261.7L507.5 263.9L528.9 276M507.5 263.9L529.7 261.3M530.2 264.6L515.3 261.5L495.2 263.8M515.3 261.5L496.1 249.5M535.3 246.9L513.7 237.3L496.9 239.3M513.7 237.3L499.2 222.3M538.3 234.2L513.7 226.8L498.2 228.3M513.7 226.8L500.6 218.4M543.9 226.8L521.3 214.8L501.1 213.8M521.3 214.8L509.1 197.9M546.3 223.8L534 210.3L511.2 199M534 210.3L520.8 184.5M552 215.9L540.2 197.7L520.2 183M540.2 197.7L535.4 178.6M556.4 213.9L544.5 195L527.5 181M544.5 195L540.7 177.7M563.8 174.4L562.8 185.3L560 210.2M562.8 185.3L574.3 208.6M572 207.4L571.7 189.7L564 174.2M571.7 189.7L574.8 173.2M583.4 206.4L582.8 187.1L574.9 173.2M582.8 187.1L589.1 173.1M601.5 206.8L600.7 190.9L594.5 173.2M600.7 190.9L605.1 173.7M602.8 207.2L607.5 188.1L603.4 173.5M607.5 188.1L618 174.6M622.5 209.9L625.1 186.2L618.7 174.8M625.1 186.2L631.2 176.6M639.9 213.2L644.9 190.9L640.2 177.4M644.9 190.9L655.4 179.5M645.6 214.7L655 193.1L654.5 179.2M655 193.1L669.4 181.4M659.4 217.8L665.9 200.9L666.5 181.2M665.9 200.9L676.8 182.7M711.4 187.7L708.3 205.8L698.6 222M708.3 205.8L713 224.2M714.9 224.6L717.7 202.5L714 188.1M717.7 202.5L723.7 189.9M738.8 192L731.3 206.9L717.7 225.7M731.3 206.9L731 227.8M737.9 229.7L742.5 212.4L741 192.3M742.5 212.4L751 193.9" stroke="#f2b190" stroke-width="1.15"/>
<path d="M491 507.1L502.9 509.3L522.6 517.9M502.9 509.3L522.6 503.6M522.6 502.4L504.5 498.8L490.9 501.5M504.5 498.8L490.9 489.6M522.5 478.9L507.8 482.6L490.9 492.1M507.8 482.6L490.8 475.6M490.8 472.3L508.2 469.6L522.5 472.5M508.2 469.6L522.4 463.1M490.8 442.2L509.2 445.8L522.4 452.8M509.2 445.8L522.4 443.7M522.4 433.7L502.6 436.9L490.8 446.3M502.6 436.9L490.8 432.8M522.5 423.7L506.5 424.5L490.8 432.1M506.5 424.5L490.8 415.5M522.6 402.8L509.4 406.4L490.8 414.8M509.4 406.4L490.9 404M491.4 382.2L509 384.2L522.6 392.7M509 384.2L523 378.4M523.1 368.8L506.3 368.4L491.6 374.5M506.3 368.4L492 362.6M523.3 360.7L508.2 362.5L491.7 370.4M508.2 362.5L492.1 355.1M492.7 342.3L504.9 341.1L523.5 347.6M504.9 341.1L524 333.6M524.1 327.5L505.8 328.8L492.9 336.3M505.8 328.8L493.4 321.1M524.8 305.7L508.1 306.5L493.8 313.3M508.1 306.5L494.3 302.3M524.8 304.6L511.1 303.7L494 309M511.1 303.7L494.4 295.7M494.7 285.8L512.9 287.1L525.4 293.4M512.9 287.1L525.7 282.5M528.1 273L514.6 271.1L495 272.7M514.6 271.1L495.4 263.5M532.8 251.5L512.1 250.7L495.5 257.8M512.1 250.7L497.5 242.5M534.4 251.1L514.9 243.4L497.3 243.3M514.9 243.4L498 231.5M538.5 237.3L518.4 224.7L498.9 221.7M518.4 224.7L503.6 207M541.6 229.9L526 216.9L504.3 208.6M526 216.9L513 199.1M546.2 223.6L530.8 208.2L510.7 199.8M530.8 208.2L519.1 187.5M549.9 219.1L530.9 198L515.4 192.6M530.9 198L525.1 178.2M558.8 213.3L542.6 191.1L526.8 181.2M542.6 191.1L539.4 177M554 175.5L562.1 195L560.3 210M562.1 195L575.3 208.4M573.9 173.4L574 184L571.5 207.4M574 184L581.7 206.6M582.3 206.5L580.9 192.6L572.5 173.3M580.9 192.6L588.4 173.1M595.8 173.3L595.2 186.9L586.9 206.2M595.2 186.9L601.6 206.6M621.2 175.1L616.6 193.3L606.4 207.8M616.6 193.3L619.9 209.2M618.8 174.8L620.3 188.2L614.1 208.8M620.3 188.2L624.5 210.1M637.7 212.6L640 195.2L636.8 177M640 195.2L648.1 178.3M649.8 215.6L657.7 197.6L659 180M657.7 197.6L668 181.3M660.6 218.4L668.1 203.1L670.3 181.8M668.1 203.1L681 183.3M707.9 187.2L706.1 198.5L697.5 221.9M706.1 198.5L711.7 224.1M710.1 223.8L714 209.1L710.7 187.6M714 209.1L725.9 189.9M738.4 229.3L738.2 209.5L734 191.2M738.2 209.5L742.3 193M755.5 233.2L756.1 212.2L752 194.1M756.1 212.2L761.4 195.6" stroke="#fffaf2" stroke-width="1.5" opacity="0.95"/>
</g>
<g clip-path="url(#cSaL)" stroke="#fffaf2" stroke-width="1" fill="none"><path d="M425 178L413 143M426 174L421 139M427 176L431 147M428 178L441 140M429 180L449 144M431 188L447 153M427 186L411 150"/></g>
<g clip-path="url(#cSaR)" stroke="#fffaf2" stroke-width="0.9" fill="none"><path d="M527 177L508 157M528 174L513 153M528 172L523 149M529 174L528 150"/></g>
</g>
<g clip-path="url(#ill)">
<path d="M195 83C197.4 82.8 198.7 82.8 209.5 81.7C220.3 80.6 241.6 78.4 260 76.5C278.4 74.6 300 72.3 320 70.5C340 68.7 360 66.8 380 65.5C400 64.2 420 63.2 440 62.5C460 61.8 480 61 500 61C520 61 543.3 61.7 560 62.3C576.7 62.9 586.7 63.6 600 64.6C613.3 65.5 626.7 66.5 640 68C653.3 69.5 667.5 71.8 680 73.8C692.5 75.8 704.3 77.9 715 79.8C725.7 81.7 736.5 83.7 744 85.2C751.5 86.7 757.3 88 760 88.6L760 146.8C757.3 146.3 754 145.5 744 143.7C734 141.9 711.8 138.2 700 136.2C688.2 134.2 681.3 133.3 673 131.9C664.7 130.5 660.5 129.1 650 127.8C639.5 126.5 621.7 125.4 610 124.4C598.3 123.4 590 122.8 580 122C570 121.2 561.7 120.6 550 119.8C538.3 119 521.7 118.1 510 117.4C498.3 116.7 490 115.7 480 115.7C470 115.7 460 116.7 450 117.5C440 118.3 431.7 119.5 420 120.5C408.3 121.5 393.3 122.7 380 123.5C366.7 124.3 353.3 124.5 340 125.5C326.7 126.5 313.3 127.8 300 129.3C286.7 130.8 275.1 132.6 260 134.5C244.9 136.4 220.3 139.6 209.5 141C198.7 142.4 197.4 142.4 195 142.7Z" fill="#e9e5d8"/>
<path d="M195 142.7C197.4 142.4 198.7 142.4 209.5 141C220.3 139.6 244.9 136.4 260 134.5C275.1 132.6 286.7 130.8 300 129.3C313.3 127.8 326.7 126.5 340 125.5C353.3 124.5 366.7 124.3 380 123.5C393.3 122.7 408.3 121.5 420 120.5C431.7 119.5 440 118.3 450 117.5C460 116.7 470 115.7 480 115.7C490 115.7 498.3 116.7 510 117.4C521.7 118.1 538.3 119 550 119.8C561.7 120.6 570 121.2 580 122C590 122.8 598.3 123.4 610 124.4C621.7 125.4 639.5 126.5 650 127.8C660.5 129.1 664.7 130.5 673 131.9C681.3 133.3 688.2 134.2 700 136.2C711.8 138.2 734 141.9 744 143.7C754 145.5 757.3 146.3 760 146.8" fill="none" stroke="#c9c3b5" stroke-width="2.2" transform="translate(0,-1)"/>
<path d="M195 142.7C197.4 142.4 198.7 142.4 209.5 141C220.3 139.6 244.9 136.4 260 134.5C275.1 132.6 286.7 130.8 300 129.3C313.3 127.8 326.7 126.5 340 125.5C353.3 124.5 366.7 124.3 380 123.5C393.3 122.7 408.3 121.5 420 120.5C431.7 119.5 440 118.3 450 117.5C460 116.7 470 115.7 480 115.7C490 115.7 498.3 116.7 510 117.4C521.7 118.1 538.3 119 550 119.8C561.7 120.6 570 121.2 580 122C590 122.8 598.3 123.4 610 124.4C621.7 125.4 639.5 126.5 650 127.8C660.5 129.1 664.7 130.5 673 131.9C681.3 133.3 688.2 134.2 700 136.2C711.8 138.2 734 141.9 744 143.7C754 145.5 757.3 146.3 760 146.8" fill="none" stroke="#d9d4c7" stroke-width="2.5" transform="translate(0,-3.2)" opacity="0.7"/>
<path d="M195 83C197.4 82.8 198.7 82.8 209.5 81.7C220.3 80.6 241.6 78.4 260 76.5C278.4 74.6 300 72.3 320 70.5C340 68.7 360 66.8 380 65.5C400 64.2 420 63.2 440 62.5C460 61.8 480 61 500 61C520 61 543.3 61.7 560 62.3C576.7 62.9 586.7 63.6 600 64.6C613.3 65.5 626.7 66.5 640 68C653.3 69.5 667.5 71.8 680 73.8C692.5 75.8 704.3 77.9 715 79.8C725.7 81.7 736.5 83.7 744 85.2C751.5 86.7 757.3 88 760 88.6" fill="none" stroke="#d2cdc0" stroke-width="1.2" transform="translate(0,0.6)"/>
<path d="M195 83C197.4 82.8 198.7 82.8 209.5 81.7C220.3 80.6 241.6 78.4 260 76.5C278.4 74.6 300 72.3 320 70.5C340 68.7 360 66.8 380 65.5C400 64.2 420 63.2 440 62.5C460 61.8 480 61 500 61C520 61 543.3 61.7 560 62.3C576.7 62.9 586.7 63.6 600 64.6C613.3 65.5 626.7 66.5 640 68C653.3 69.5 667.5 71.8 680 73.8C692.5 75.8 704.3 77.9 715 79.8C725.7 81.7 736.5 83.7 744 85.2C751.5 86.7 757.3 88 760 88.6" fill="none" stroke="#f1eee6" stroke-width="1.6" transform="translate(0,2.2)"/>
<g fill="url(#cg)">
<path d="M444.8 106.8L445.2 107.4L447.1 107.2L446.9 105.4Z"/>
<path d="M295.9 102.5L296.6 104.3L298.6 99.6L297.1 99.9Z"/>
<path d="M297.2 106.6L297.8 108L301.7 100.1L300.3 99.1Z"/>
<path d="M298.7 108.5L302.2 110L303.9 107.9L303.4 101.2L302.6 100.7Z"/>
<path d="M643.1 79.1L639.7 78.7L638.7 81L641.6 81.2Z"/>
<path d="M636.3 78.3L636.7 80.8L637.1 80.9L638.2 78.5Z"/>
<path d="M239.8 123.8L243.2 126.3L249.3 125.6L251.9 122.8L248.4 119.6Z"/>
<path d="M566.1 107.5L560 108.7L559.4 109.9L565.6 110.4Z"/>
<path d="M206 110.6L201.6 106.5L200.7 106.7L203.5 110.4Z"/>
<path d="M207 109.9L208.6 105.6L208.2 104.6L202.8 106Z"/>
<path d="M207.4 103.4L206.9 102L202.8 99.9L201.4 105Z"/>
<path d="M301.9 91.2L302.6 90.9L298.4 85.9L297.9 86.4L298 87.7Z"/>
<path d="M303.9 90.6L306.3 89.8L301.8 83.3L301.1 83.2L299.2 85Z"/>
<path d="M307.1 89L304.8 83.6L303.3 83.4Z"/>
<path d="M566.6 106.3L570.5 105.5L571.8 98.8L569.4 96.7L565.5 104.4Z"/>
<path d="M568.6 96L561.6 97.4L564.9 103.5Z"/>
<path d="M754 135.2L755.4 135.5L755.4 132.1L753.5 133.4Z"/>
<path d="M596.7 88.7L593.6 87.5L589.4 89.3L588.2 93.7L597.2 90.4Z"/>
<path d="M362.1 77.5L360.5 77.6L357.9 78.8L362.4 78.8Z"/>
<path d="M352.5 78.8L354.7 78.8L356.7 77.9L352.7 78.2Z"/>
<path d="M735.5 120.9L734.9 120.7L728.4 125L728.6 125.4L735.9 121.9Z"/>
<path d="M729 126.8L729.8 128.9L737 124.2L736.6 123.1Z"/>
<path d="M730.3 130L730.5 130.4L738 126.8L737.4 125.3Z"/>
<path d="M750.3 97.3L747.9 96.5L745.3 95.9L746.6 99.4Z"/>
<path d="M744.1 95.9L742.5 95.6L740.9 97.3L744.4 100.4L745.6 99.8Z"/>
<path d="M246.1 88.4L244.2 88.6L240.8 90.7L248 94L249.1 92.6Z"/>
<path d="M240 91.5L239.6 92.7L245.3 96.8L247.1 94.7Z"/>
<path d="M617.7 82.3L624.9 80.5L625 77.5L617.7 76.6Z"/>
<path d="M307.1 117.3L302.5 112.8L302.2 113.2L303.5 116.3L307 117.9Z"/>
<path d="M300 115.8L298 118.2L298.1 119.2L305.7 118.4Z"/>
<path d="M551.5 79.7L553.5 83.3L558.2 83.3L561.2 77.9L552.4 78.5Z"/>
<path d="M559.8 72.8L556.6 72.6L553.1 77.6L561.6 77Z"/>
<path d="M310.5 88.9L315.6 91.9L315.1 83.8Z"/>
<path d="M316.7 89.1L317.1 92.3L317.9 88.3Z"/>
<path d="M316.2 84.3L316.4 87.7L318.2 86.5Z"/>
<path d="M642.8 89.5L645.3 87L644.5 86.8Z"/>
<path d="M642.5 91.7L643.8 93.5L646.2 88.1Z"/>
<path d="M645.3 94.1L650 93.1L648.8 87.7L648.1 87.6Z"/>
<path d="M375.7 89.1L375.8 90.5L379.3 90L381.5 86.8L379.6 86.2Z"/>
<path d="M381 89.6L383.2 89.3L382.4 87.6Z"/>
<path d="M376 91.6L376.1 92.9L380.5 92.8L378.8 91.2Z"/>
<path d="M382.3 92.6L384.7 92.6L383.7 90.6L380.7 91.1Z"/>
<path d="M248.4 103.8L246.3 103.1L245.3 104.8L250.9 107.3Z"/>
<path d="M243.8 108.1L244.5 112.3L248.2 113.6L249.1 112.8Z"/>
<path d="M242.8 108.9L241.4 111.3L243.3 112Z"/>
<path d="M531 101.9L537.8 95.4L535.8 91.8L530.3 90.8L528.7 91.8L527.3 95.7L529.8 101.5Z"/>
<path d="M733.7 107.9L730 98.5L729.1 99.8L730.3 107.1Z"/>
<path d="M730.6 97.7L734.6 107.7L736.3 107.1L736 97.6L734 96.3Z"/>
<path d="M679.7 84.3L676.9 83.8L677.1 85.1L683.3 87.5Z"/>
<path d="M705.8 119.5L700 120.4L699.2 122.7L701 125.9L707.8 127.1L708.5 126L706.9 120.1Z"/>
<path d="M602.5 75.4L601.5 75.3L600.1 79.5L602.4 77Z"/>
<path d="M600.3 75.2L596.6 74.9L595.3 77.3L599 79.1Z"/>
<path d="M511.2 83.5L519.6 81.7L513.8 77.2L510.8 81Z"/>
<path d="M515.1 76.5L519.3 79.7L518.2 76.9Z"/>
<path d="M586.9 105.7L582.6 111.6L587.1 111.9L587.4 111.4Z"/>
<path d="M585.6 104.7L584.3 104.5L583.8 107.1Z"/>
<path d="M580.4 111.8L580.8 111.8L581.9 110.3L583.2 104L582.4 103.9L579.9 106.4Z"/>
<path d="M548 100.4L551.8 101.8L552.8 98.9L549.5 98.5Z"/>
<path d="M548.3 102.1L549.5 105.6L550.6 102.9Z"/>
<path d="M551.7 105.9L554.8 104.2L552.7 102.6Z"/>
<path d="M555.8 103.5L556.6 99.4L554.1 99.1L553.3 101.6Z"/>
<path d="M613.9 113.4L609.8 112L609.2 114L614.1 114.4Z"/>
<path d="M608 113.8L608.5 112.1L606.3 113L606.1 113.6Z"/>
<path d="M704.1 90.8L705.8 94.7L707.5 90.2Z"/>
<path d="M706.3 95.9L706.9 97.3L709.8 98.4L709.3 89.9L708.6 90Z"/>
<path d="M711.1 98.5L711.7 98.3L712.3 90.1L711 89.9L710.7 89.9Z"/>
<path d="M532.7 75.5L533.6 78L535 75.2L534 73.4Z"/>
<path d="M534.3 80L535.5 80.7L537.6 79.7L536 76.6Z"/>
<path d="M535.1 72.2L538.8 79L539.4 78.7L540.4 72.4Z"/>
<path d="M461.6 87.6L465.1 88.7L465.8 85.3L464.2 86.3Z"/>
<path d="M466.3 88.8L468.3 88.9L469.7 88.1L470.7 84.2L469.9 82.6L467.2 84.3Z"/>
<path d="M578.8 80.3L570.8 82.6L570.3 86.2L570.6 86.7L578.2 88.5L581.7 82.7Z"/>
<path d="M706.8 109L704 108.4L696.7 113.8L699.9 119.2L705.4 118.4Z"/>
<path d="M690.9 95.3L696.8 97.2L699.3 92.9L692.6 91.2Z"/>
<path d="M699.6 91.8L700 91.1L694.2 88.5L693.3 90.3Z"/>
<path d="M526.5 95.3L526.9 94.1L524.1 93.7L521.6 95.2Z"/>
<path d="M527.1 93.1L527.6 91.6L525.6 92.8Z"/>
<path d="M526.6 90.9L522.4 87.7L516.6 92.8L516.5 94.6L516.9 95L519.9 95.1Z"/>
<path d="M289.8 103.8L294.6 102.1L295.8 99.3L293.4 97.3Z"/>
<path d="M287.2 101.3L288.6 103.7L291.9 97.7Z"/>
<path d="M292.3 96.2L290.7 94.8L288 99.4Z"/>
<path d="M218.3 127.2L216.5 126.1L214.5 129.6L214.8 130.1L218 129.7L218.8 129Z"/>
<path d="M211.4 123.3L211.1 124L214 128.5L215.6 125.7Z"/>
<path d="M210.5 125L208.9 128.5L209.3 130L210.7 130.5L212.2 130.4Z"/>
<path d="M597.7 109.1L593.3 104.8L591.3 105.2L595.7 110.8L596.4 110.8Z"/>
<path d="M589.4 105.5L588.5 105.7L589 110.8L593.6 110.7Z"/>
<path d="M326.6 83L330.8 83.4L331.9 80.2L325.8 80.8Z"/>
<path d="M600 80.8L594.5 78.1L592.4 80.5L594.1 86.5L597 87.6L600.5 82.9Z"/>
<path d="M722.5 118.5L722.7 116.6L719.7 114.6L714.8 116.3L714.3 117.7L717.2 121.9Z"/>
<path d="M403.4 111.2L403.9 111.5L407.8 111.2L406.5 104.2L405.3 103.9Z"/>
<path d="M409 110.8L410.2 105.2L407.9 104.7Z"/>
<path d="M653.8 110.1L651.6 111L654 113.3Z"/>
<path d="M649.9 111.4L653.9 116.4L653.4 114.7Z"/>
<path d="M386.2 77L388.8 80.8L389.6 81.2L391.7 75.4L387.5 75.7Z"/>
<path d="M390.8 81.1L395.3 80L396.5 76.9L395.5 75L392.9 75.2Z"/>
<path d="M491.8 86.2L491.1 86.1L490.7 94.5L493.5 91.9Z"/>
<path d="M489.7 95.3L490.2 85.8L490.1 85.8L486.8 88.8L488.7 94.6Z"/>
<path d="M510.6 84.7L504.9 88.2L504.6 89.1L507 89.9L512.2 87.4Z"/>
<path d="M508.5 90.4L515.5 92.7L512.8 88.4Z"/>
<path d="M505.7 90.8L508.6 95.9L512.7 94.9L508.6 91.7Z"/>
<path d="M648.2 110.8L647.4 106.9L643.4 111.8L645.3 112.3Z"/>
<path d="M647.2 105.1L647 103.9L643.5 102.8L639.6 109.1L640.6 111.4L641.9 111.7Z"/>
<path d="M579 76.9L579.4 79.1L579.8 79.5L579.6 77.4Z"/>
<path d="M581 80.3L582.7 81.6L584.1 80.6L580.8 78.4Z"/>
<path d="M580 73.7L578.9 75.6L584.7 79.7L585.8 74.1Z"/>
<path d="M344.9 98.1L342.7 101.5L346.9 106.4L351.4 101.2L350.4 99.7Z"/>
<path d="M327.7 112.3L327 111.4L321.7 111.7L320.8 112.9L327.6 114.1Z"/>
<path d="M320.2 113.7L318.1 117.1L323 114.2Z"/>
<path d="M321.3 116.6L327.3 116L327.3 115.1L324.6 114.7Z"/>
<path d="M394.5 105.7L396.9 112.1L398.8 111.9L399.3 111.3Z"/>
<path d="M393.8 107.4L391.2 111.9L391.6 112.3L395.7 112Z"/>
<path d="M438 91.8L437.9 96L443 97.3L443.5 96.8L441.2 96.4L439.5 95.3L438.4 93.7Z"/>
<path d="M439.6 99.9L441.3 98.5L438.7 97.9Z"/>
<path d="M493.9 84.9L497.3 81.2L493.8 77L491.8 77.5Z"/>
<path d="M488.9 78.2L488 78.4L490.4 84.8L492.7 85.2L491.4 80.4Z"/>
<path d="M549.8 107.7L549.2 107.5L546.9 109.4L551.3 109.7Z"/>
<path d="M676.5 115L677.6 113.2L677.1 111L674.8 111.5L675.3 115Z"/>
<path d="M677 109.9L676.1 106.7L674 107.1L674.5 110.4Z"/>
<path d="M669.1 114.7L673.8 114.8L672.7 107.6L671.1 107.9Z"/>
<path d="M607.6 90L607.1 85.6L597.8 88.6L598.2 90L604.9 92.1Z"/>
<path d="M604.6 85.1L601.4 83.9L599.3 86.8Z"/>
<path d="M666.2 95.2L661 95.5L667.1 98.4L667.7 97.1Z"/>
<path d="M658.6 95.6L659.6 101.2L662.5 102.4L663.8 98Z"/>
<path d="M663.7 102.5L664.9 102.8L666.5 99.5L664.8 98.7Z"/>
<path d="M264 100.9L267.4 101L266 95.9L263.9 100.4Z"/>
<path d="M265.3 93.4L263.4 94.9L263.7 98.3L265.5 94.2Z"/>
<path d="M268.8 100.9L270.3 100.9L271.6 97L266.9 94.5Z"/>
<path d="M619.1 91.4L621.9 95.1L623.3 95.2L622.2 91.5Z"/>
<path d="M624.8 95.2L627 95.4L628.3 92.9L627.6 91.9L623.8 91.7Z"/>
<path d="M621.2 90.2L626.7 90.5L625.5 88.9Z"/>
<path d="M488.1 95.4L487.1 97.4L486.8 98.9L490 98.3L489.4 96.2Z"/>
<path d="M486.1 102.9L488.6 99.9L486.7 100.2Z"/>
<path d="M481.4 100.3L484.6 103.3L485.4 100Z"/>
<path d="M201.1 120.6L206.9 119.1L206.7 111.9L203.4 111.6L198.3 117.5Z"/>
<path d="M418.5 80.9L418.5 85.7L426.5 89L427.6 86.3L419.3 80.4Z"/>
<path d="M427.9 85.2L428.9 82.5L426 83.8Z"/>
<path d="M428.9 81.4L427.8 79.9L422.1 81.3L424.8 83.2Z"/>
<path d="M479.4 75.1L480.7 76.1L482.9 74.4L479.3 72.9Z"/>
<path d="M481.9 77L482.6 77.6L485.6 77L485.7 75.6L484.3 75Z"/>
<path d="M479.2 71.7L486.1 74.4L486.3 71.6Z"/>
<path d="M339.7 93.9L340.5 101L341.4 100.8L343.8 97.2L343.5 96.1Z"/>
<path d="M336.6 96.4L335.9 97.1L339.1 100.3L338.7 97.1Z"/>
<path d="M300.9 98L304 100.2L308.9 98.2L308.1 94.7L301.5 95.7Z"/>
<path d="M308 93.5L307.3 90.6L302.2 92.3L301.6 94.4Z"/>
<path d="M751.2 109.3L749.8 112.5L751.9 114.7L755.2 112.4L755.2 110Z"/>
<path d="M752.7 115.8L754.5 117.7L755.5 117.9L755.5 113.8Z"/>
<path d="M430.6 108.7L438.1 105.7L438.3 105.3L437.5 102.6L436.9 102.1Z"/>
<path d="M435 102L433.7 101.7L432 105.1Z"/>
<path d="M432.6 101L431 100.6L428.9 102.2L427 107L427.9 109.5L428.4 109.5Z"/>
<path d="M401.5 85.5L398.8 85.2L395.1 92.6L397.2 94.5L404.6 93.4L405.2 91.2Z"/>
<path d="M450.6 79L448.6 81.9L452.8 80.9L451.2 79Z"/>
<path d="M514.2 105.9L507.5 106.2L507.5 106.7L514.4 107.1Z"/>
<path d="M745.9 133.4L747 133.6L747 130.7L746.3 130.3Z"/>
<path d="M745.3 126.8L742.9 127.3L744.6 131.3Z"/>
<path d="M741.5 127.6L741 127.8L741.6 132.8L742.8 130.6Z"/>
<path d="M742.7 133.2L744.3 133.5L743.6 131.7Z"/>
<path d="M434.1 108.7L437.8 108.3L437.8 107.2Z"/>
<path d="M494.7 76.3L498.2 80.5L499.2 79.7L496.5 71.6Z"/>
<path d="M500.3 78.6L503.9 75.9L503.3 71.8L498.1 71.9Z"/>
<path d="M435.5 82.7L434.7 82.7L434.1 87.6L436.7 91L438 89.9Z"/>
<path d="M433.5 82.4L430.1 82.6L433 86.5Z"/>
<path d="M429.7 84.3L427.7 89.7L427.8 90.4L428.7 91L434.7 91Z"/>
<path d="M373.5 104.2L374.1 107.6L376.5 106L376.8 102.1Z"/>
<path d="M377.7 105.2L380.7 103.2L377.9 102.1Z"/>
<path d="M374.4 109L374.5 109.6L382.3 110.8L383 104.3L382 103.9Z"/>
<path d="M579.1 89.5L580.3 93.4L586 93.4L582 84.5Z"/>
<path d="M587 93.2L587.7 91.4L585 88.8Z"/>
<path d="M583.4 84.6L584 85.9L587.9 89.7L588 89.1Z"/>
<path d="M258 115.2L257.9 117.5L267.7 114.1L266.5 113Z"/>
<path d="M258.3 118.7L258.2 119.1L259.6 119.8L266 117.4L267.1 115.6Z"/>
<path d="M261 120.7L263.7 121.9L265.4 119.1Z"/>
<path d="M414.2 79.3L412 80.4L415 83.3L415.5 80Z"/>
<path d="M416 84.3L417.5 85.7L417.5 80.9L416.6 80.4Z"/>
<path d="M410.8 81L409.3 81.8L410.4 85.2L412.3 82.4Z"/>
<path d="M411 86.6L411.2 87.2L414.7 88.1L416.5 86.4L413.2 83.3Z"/>
<path d="M684.1 88.3L684.3 89.8L690.2 94.2L693.4 87.6L692.9 86.3L686.5 85.3Z"/>
<path d="M742.3 114.8L739.5 108.9L736.8 108.2L734.7 109L734.4 117.8L735.3 119.2L736 119.4L742 115.6Z"/>
<path d="M226.3 103.8L235.1 103.7L234.8 102Z"/>
<path d="M227.9 104.9L235.3 105.9L235.2 104.9Z"/>
<path d="M226.3 105.8L226.7 107L235.7 110.1L236.2 109.8L235.7 107Z"/>
<path d="M227.4 108.5L227.6 109.2L231.4 109.9Z"/>
<path d="M277.7 115.2L274.1 115.8L279.3 121.4L280.3 121.2Z"/>
<path d="M272.5 116.1L273.2 119L275 118.7Z"/>
<path d="M273.4 120.1L274.1 122.4L278.2 121.8L276.1 119.6Z"/>
<path d="M316.1 82.5L319.3 86.1L323.9 85.9L325.4 83.7L324.3 80.6L316 81.4Z"/>
<path d="M296.8 118.6L292 116.5L290.7 117.3L292.8 119.6L296.8 119.1Z"/>
<path d="M289.3 117.8L288.6 118.2L287.7 120.4L291.4 120Z"/>
<path d="M486.4 105.4L488 105.4L491.1 105.6L489.7 103.9Z"/>
<path d="M492.8 106L495.1 106.1L493.7 103L489.9 102.5Z"/>
<path d="M489.6 101.2L492.5 101.6L491.8 100.1L490.9 99.6Z"/>
<path d="M638 116.1L645.1 115.1L644.9 113.5L640.4 112.4Z"/>
<path d="M640.9 116.6L644 116.9L645.3 117.1L645.2 116Z"/>
<path d="M286.6 85.4L287.4 84.3L283.7 84.7Z"/>
<path d="M653.1 80.3L654.2 81.9L655.4 82.1L656.6 80.8Z"/>
<path d="M374.7 89.1L371.3 87L370.7 87.1L371.8 93.9L375 92.9Z"/>
<path d="M369.7 87.5L368 88L369.5 94.6L370.8 94.2Z"/>
<path d="M361.7 98.8L362.1 99.8L365.5 97.3Z"/>
<path d="M367.4 97.3L362.6 100.9L367.8 97.8Z"/>
<path d="M363.1 102.1L364.2 105L371.6 103.4L368.5 98.9Z"/>
<path d="M416.1 104.8L415 102L413 102.8L412.9 103.5Z"/>
<path d="M417.6 105.3L418.7 104.7L416.3 101.1L415.9 101.3Z"/>
<path d="M413.8 97.9L413.2 101.1L415.4 100.3Z"/>
<path d="M419.5 103.9L421.7 102.5L420 97.3L415.9 96L414.7 96.8Z"/>
<path d="M659.2 110.6L660.6 112.4L662.5 111.2L661.7 110.2Z"/>
<path d="M661.1 113.6L663.3 116.4L665.9 115L663.6 111.9Z"/>
<path d="M658.2 111.7L657.6 116.8L660.1 117.9L662.3 116.8Z"/>
<path d="M515.7 95.6L508.7 97.3L508.7 97.4L516 96.3Z"/>
<path d="M507.7 98.9L506.5 100.8L506.5 101.2L509.3 98.7Z"/>
<path d="M509 100.9L516.2 98L516.2 97.7L511.8 98.3Z"/>
<path d="M506.5 103.1L506.7 104.3L516.7 102.8L516.5 99.1Z"/>
<path d="M508.4 105L514.7 104.7L515.6 103.9Z"/>
<path d="M754.3 118.9L747.8 121.8L747.4 125.5L747.9 126L755.4 126.4L755.4 119.1Z"/>
<path d="M543.5 87L541.7 87.1L542.6 92.4L546.8 90.4Z"/>
<path d="M540.7 87.2L538.7 87.3L538.2 88.3L541 93.1L541.6 92.8Z"/>
<path d="M537.7 89.6L536.8 91.4L538.6 94.1L539.9 93.5Z"/>
<path d="M377.8 95.5L377.8 100.7L383.6 102.9L385.8 101.4L386.6 94.4L385.8 94Z"/>
<path d="M479.2 84L480.3 81.4L476.7 83.8Z"/>
<path d="M478.8 76.1L477.9 77.4L476.1 78.7L476.7 82.1L481.7 78.6Z"/>
<path d="M475.1 79.2L470.7 82L471.6 83.7L474.2 83.9L475.8 82.8Z"/>
<path d="M544.1 86.1L552.1 82.5L550.7 80.1L548.8 79.5L544.4 81.6Z"/>
<path d="M544.5 86.8L546.5 88.8L552.2 84.8L552.8 83.7L552.5 83.2Z"/>
<path d="M333.9 110.7L332 110.5L331.5 111.8L337 111.9Z"/>
<path d="M337.1 109.8L336.3 106.5L334.2 105.9L332.6 109.4Z"/>
<path d="M330.3 108.4L328.2 110.3L328.5 111.4L329.2 111.4Z"/>
<path d="M332.2 105L330.7 104.5L328.7 105.7L328.2 108.5Z"/>
<path d="M568 94.8L569.5 87.5L569.1 87L561.8 87.7L560 94.2L560.6 96.4Z"/>
<path d="M608.2 91.1L607.1 91.9L612.3 98.3L613.2 93.3Z"/>
<path d="M606 92.9L605.3 100.1L608.3 101.1L611.9 100.1Z"/>
<path d="M454.8 98.3L455.9 99.1L459.5 97.9L455 97.5Z"/>
<path d="M669.3 97.1L674.2 100.4L677.6 95.4L675.2 94.1Z"/>
<path d="M675.1 101L677.8 102.8L680.2 101.2L679.1 96.2L678.6 95.9Z"/>
<path d="M371.4 77.5L372.2 78.2L375.6 78.4L376.1 76.5L371.4 76.8Z"/>
<path d="M376.8 78.6L378.1 78.6L381 75.9L377.4 76.2Z"/>
<path d="M363 87L361.9 87.7L359.7 93.8L361.6 97.6L366.9 95.6L365.9 88.3Z"/>
<path d="M709.1 127.3L712.1 127.8L715.1 128.3L711.6 126.5L709.6 126.7Z"/>
<path d="M717.5 128.1L716.3 126.2L714.1 126.4Z"/>
<path d="M305.1 108.8L312.7 113.5L311.6 108.6Z"/>
<path d="M304 109.7L303.1 110.9L303.1 111.7L307.8 116.3L312.1 114.8Z"/>
<path d="M678.5 119.8L686.3 122.4L688 116.1L678.3 118.8Z"/>
<path d="M681 116.6L687 115L685.6 113.8Z"/>
<path d="M682.8 113.7L678.8 114.1L678.5 114.6L680.7 115Z"/>
<path d="M226.5 109.7L224.9 104.8L219.1 104.6L218.3 105.5L217 113.1L217.3 113.5L225 112.9Z"/>
<path d="M347.4 107.6L354.6 105.3L353.6 102.2L352.4 101.9Z"/>
<path d="M348.8 108.3L353.9 110.6L355.6 108.4L355 106.4Z"/>
<path d="M710.8 106.9L711.8 106.9L713.8 103L712.1 99.6Z"/>
<path d="M712.7 106.9L716 107.1L714.3 103.9Z"/>
<path d="M713.2 99.4L717.1 106.9L718.5 107L714.1 99.5Z"/>
<path d="M719.7 106.2L720.2 105.8L720.3 101.2L719.2 100L715.7 99.6Z"/>
<path d="M326.3 102.9L328.3 104.4L329.9 103.4Z"/>
<path d="M330.4 101.8L331.5 97.6L331.5 97.6L326.1 101.3Z"/>
<path d="M330.7 96.5L328.4 94.3L326.7 94.3L322 97.2L322.5 100.5L323.7 101.4Z"/>
<path d="M297.2 85.5L299.7 83L296.7 83.3L296.6 85.1Z"/>
<path d="M641.5 82.8L638.7 82.6L640 85.1L642.2 84.1Z"/>
<path d="M640.3 86.5L641.7 89.1L643.6 86.2L643.1 85.1Z"/>
<path d="M636 90.4L636.8 90.4L636.4 82.3L635 83.9Z"/>
<path d="M638 90.7L640.8 90.6L641.1 90.1L638 84Z"/>
<path d="M546.5 101.3L543.4 101.3L542.2 102.9L544.1 105.3L547.8 105Z"/>
<path d="M541.4 103.6L539.8 105.9L542.9 105.6Z"/>
<path d="M539.4 106.9L541.4 108.9L543.9 109.1L541.9 106.7Z"/>
<path d="M545.4 108.9L548.2 106.8L548.1 106.4L543.7 106.8Z"/>
<path d="M287.3 86.5L289.2 92L290.4 92.9L292.4 91.2L290 84.1L289.1 84.2Z"/>
<path d="M293.5 90.2L295.2 88.8L292.7 87.7Z"/>
<path d="M296.5 87.9L296.6 86.6L292.7 83.8L291.4 84L292 85.8Z"/>
<path d="M230.2 93.9L233.8 101.1L234.5 101L235 96Z"/>
<path d="M229.1 94.6L228.2 95.3L230.2 96.9Z"/>
<path d="M226.9 96.2L226.9 102.2L232.4 101.2L231.8 100Z"/>
<path d="M280.7 100.2L278.9 96L276.5 94.6L275.8 95.2L279.6 102.2Z"/>
<path d="M273.1 97.2L271.7 101.6L272.6 103.5L277.3 105L278 104.7Z"/>
<path d="M428.3 78.9L430.1 81.3L435.8 81.4L437.6 79.8L429.8 76.2Z"/>
<path d="M438.1 78.6L437.7 77.2L431.1 74.3L430.6 75.2Z"/>
<path d="M431.9 73.3L437.2 75.6L435.9 73.2Z"/>
<path d="M686.9 103.5L692.9 105.3L697.8 100.6L696.6 98.2L695.6 97.8L686.3 102.6Z"/>
<path d="M693.5 97.5L690.9 96.6L689.8 98L690.6 98.9Z"/>
<path d="M509.5 81.1L504.7 77.1L501.5 79.5L508.4 84.7L510 83.8Z"/>
<path d="M500.5 80.4L499.3 81.3L504.6 86.9L507 85.4Z"/>
<path d="M321.2 100.6L320.5 97.3L313.5 103.6L314.1 105.5L317.6 105.2Z"/>
<path d="M319.4 96.6L318.4 96.1L312.1 99.4L312.3 100L316.9 98.9Z"/>
<path d="M312.7 101.1L313 102.3L315 100.5Z"/>
<path d="M233.3 118.7L238.5 122L240.4 111.9L236.8 110.8L235.2 111.6Z"/>
<path d="M628.8 100.5L624.4 103.8L626 109.2L629.4 109.2L632.4 106.5L631.9 102.4Z"/>
<path d="M278.9 105.6L277.7 106.1L277.7 109L282 112.8L283.6 112.2L284.7 109.1Z"/>
<path d="M278 110.8L278 113.7L280.5 113Z"/>
<path d="M413.1 96.5L415.2 95L414.4 89.3L410.7 88.3L406.2 91.5L405.6 93.7L406.1 94.4Z"/>
<path d="M203.5 94.8L209.2 97.3L205.5 93.9Z"/>
<path d="M203 95.6L202.4 97.3L209.8 99.5L210.7 98.9Z"/>
<path d="M202.4 98.1L207.5 100.9L208.8 100.1Z"/>
<path d="M211.8 97.9L213 97.2L209.7 92.4L206.9 93.4Z"/>
<path d="M344.8 110.7L338.5 111.6L337.8 112.7L338.2 115.2L345.7 114.7Z"/>
<path d="M427.2 91.9L425.4 93.4L428.5 101L430 99.9L427.7 92.3Z"/>
<path d="M424.2 94.3L421.2 97L422 99.5Z"/>
<path d="M422.8 101.2L423.2 102.2L425.5 103.2L427.2 102L424.9 96.3Z"/>
<path d="M248.8 114.5L249 118.7L249.6 119.3L254.7 112.4L253.2 110.7Z"/>
<path d="M251.9 121L252.8 121.8L256.6 119.2L256.7 115.2L255.4 113.7Z"/>
<path d="M496.9 106L499.4 106.2L500 102.6L496 102.5Z"/>
<path d="M500.3 101.5L500.7 99L499.6 98.5L495.5 100.9L495.6 101.3Z"/>
<path d="M500.6 106.4L501.5 106.4L505.7 105L505.2 101L501.7 99.6Z"/>
<path d="M352.6 100.6L354 101L360.4 98.3L360 97.5L351.7 98.9Z"/>
<path d="M358.7 94.5L356.4 93.8L355.7 95.5L355.9 95.5Z"/>
<path d="M355 93.7L353.4 93.3L352.8 95.4L354.4 95.3Z"/>
<path d="M351.5 79.8L350.7 79.7L347.7 81.3L351.2 89.7L353.3 85.8Z"/>
<path d="M416.2 77.6L420.9 73.8L415.7 74.1Z"/>
<path d="M416.1 79.1L418 80.1L422.9 77.2L422.1 74.2Z"/>
<path d="M559 94.5L550.6 89.4L549.7 89.9L555.1 98L557.3 98.3L559.6 96.7Z"/>
<path d="M550.8 94L548.6 90.9L549.4 94.8Z"/>
<path d="M549.4 96.3L549.7 97.3L553.7 97.8L551.8 95Z"/>
<path d="M612.5 101.4L609 102.4L609.4 107.1L615.8 103.3Z"/>
<path d="M609.5 108.6L609.7 110.7L614.1 112.2L614.5 111.6Z"/>
<path d="M615.5 110.8L616.2 110L616.2 104.5L610.6 107.8Z"/>
<path d="M390.7 93.2L388 94.4L387.2 101.4L387.9 101.7Z"/>
<path d="M389 102.2L394.6 93.5L394.4 93.2L392.1 93Z"/>
<path d="M389.9 102.8L394.4 104.6L396.2 102.5L393.6 97Z"/>
<path d="M396.7 101.3L396.6 95.1L395.5 94.1L394.2 96.2Z"/>
<path d="M686.3 123.5L681.9 122L682.5 123.1Z"/>
<path d="M680.4 121.8L678.4 121.1L677.8 122.1L680.8 122.6Z"/>
<path d="M457.5 76.4L457.5 78.7L459.2 77.8Z"/>
<path d="M456.1 76.1L453.6 80.2L454 80.8L456.2 79.7Z"/>
<path d="M455.6 75.2L452 78.5L452.9 79.6Z"/>
<path d="M725.1 114.5L725.9 112.3L724.3 111.8L723.4 115.4Z"/>
<path d="M726.3 111L727 108.9L725.2 108.3L724.6 110.5Z"/>
<path d="M724 107.8L721 106.8L719.8 107.9L720.4 113.5L722.2 114.7Z"/>
<path d="M605 112.8L599.3 109.6L597.4 111.8L597.5 112.9L604.8 113.5Z"/>
<path d="M720.3 129.1L724.1 129.7L729 130.5L720.7 128.9Z"/>
<path d="M727 125.3L722.2 127.8L728.6 129.1Z"/>
<path d="M220.5 93.5L216.7 98L219.2 103.5L225 103.7L225.7 102.9L225.4 96.3Z"/>
<path d="M405 95.1L404.6 94.6L397.8 95.5L397.8 101.4L404.2 102.5Z"/>
<path d="M227.3 128.3L223.9 127.5L222.9 128.9Z"/>
<path d="M227.5 127L226.9 123.7L224.8 126.4Z"/>
<path d="M226.6 122L226.5 121.2L221.9 122.2L221 123.9L222.7 127.1Z"/>
<path d="M220.3 125.2L219.4 127L219.8 128.8L221.1 129.1L221.9 128.1Z"/>
<path d="M626.6 87.2L629 83.8L627.6 83.7Z"/>
<path d="M628.1 86.8L632.2 84L630.2 83.8Z"/>
<path d="M626.8 88.8L628.3 90.9L634 85.4L633.8 84.1Z"/>
<path d="M629.1 91.6L629.4 92L634.6 90.6L634 87Z"/>
<path d="M227.8 119.1L230.3 118.8L228.6 114L227.2 117.1Z"/>
<path d="M227.3 110.7L226 113.4L226.7 115.4L228 112.6Z"/>
<path d="M231.3 118.6L232.2 118.5L233.9 111.6L232.6 111.4L230.7 116.6Z"/>
<path d="M231.4 111.2L228.7 110.7L230.1 114.8Z"/>
<path d="M449 98.5L450.6 99.9L451.3 99.5L450.7 97.9Z"/>
<path d="M452.3 99L453.6 98.2L453.8 97.4L451.7 97.2Z"/>
<path d="M370.5 78.3L363.4 79.4L363.5 85.9L366.5 87.3L370.9 86.1L371.4 79.1Z"/>
<path d="M366.3 77.3L364.1 77.4L363.6 77.5L363.7 78.1L366.4 77.6Z"/>
<path d="M199.6 106.8L199.9 105.7L199.5 104L196.4 105L196.4 107.1Z"/>
<path d="M199.1 103.1L197.9 98.5L196.6 98.4L196.6 103.9Z"/>
<path d="M200.3 102.7L201.4 98.8L199.4 98.7Z"/>
<path d="M471.2 105.5L473.9 105.3L474.4 102.8L470.9 104.1Z"/>
<path d="M616.6 83.6L610.4 83.3L608.3 85.6L608.6 89.9L614 92.4L617.7 90.7Z"/>
<path d="M754.2 98.6L752.2 103.4L755.6 104.6L755.6 98.3Z"/>
<path d="M752.1 104.6L751 107.3L751.2 107.7L755.2 108.4L755.2 105.8Z"/>
<path d="M217.4 114.5L217.2 116.6L220.1 119.6L223.8 113.9Z"/>
<path d="M221.2 120.2L221.8 120.8L226.6 119.5L224.9 114.6Z"/>
<path d="M746.1 125.3L746.3 123.5L744.8 125.6Z"/>
<path d="M742.9 125.8L745.4 122.5L741.5 121.8Z"/>
<path d="M737.2 121.1L739.4 126.6L741.4 126.2L739.9 121.5Z"/>
<path d="M746.4 121.3L745.2 120L743.5 120.8Z"/>
<path d="M744.4 119.1L742.5 116.9L737.9 119.8L741.5 120.5Z"/>
<path d="M642.9 100.4L643.6 101.7L647.4 102.9L650.6 101.1L651.6 94.9L650.8 94.3L644.5 95.6Z"/>
<path d="M331.8 84.2L333.8 87.1L338 87.6L342.3 83.7L342.5 83L339.5 79.1L333.4 79.7Z"/>
<path d="M522.2 82L523.7 81.3L525.9 75.5L523 72.5L519.5 76.4L521.5 81.6Z"/>
<path d="M698 122.2L698.8 119.9L698.1 118.7L688 121.3L687.5 123.1L687.7 123.7L692.7 124.5Z"/>
<path d="M695.7 114.1L689.2 115.9L688.1 120L697.6 117.5Z"/>
<path d="M532.9 106.3L530.6 103.1L529.5 102.6L524 105.7L523.9 107.7L532.2 108.2Z"/>
<path d="M270.4 85.9L272.5 87.4L277.1 85.2Z"/>
<path d="M274.8 88.5L276.2 89.4L279.3 85.5L276 87.1Z"/>
<path d="M713.2 117.4L713.8 115.8L709.6 108.3L707.8 108.9L706.4 118.6L707.5 119.2Z"/>
<path d="M599 108.4L602.9 101.2L596.5 98.9L594.2 103.8Z"/>
<path d="M404.8 75.7L406.9 79.9L407.5 77.8Z"/>
<path d="M408 76.9L408.8 74.3L405 74.5L404.9 74.5Z"/>
<path d="M407.7 80.8L408.5 81.1L413.7 78.4L412.7 74.1L409.7 74.2Z"/>
<path d="M496.3 91.6L495.8 91.5L490.6 96.1L490.9 97.2Z"/>
<path d="M268.9 115.4L264.6 122.7L264.8 123.4L273 122.3L271 116.2Z"/>
<path d="M673 83.5L670.6 83.1L671.5 86.8L674.4 86.8L675.4 85.8Z"/>
<path d="M669.1 82.6L667.3 82.3L666.9 83.8L669.5 84.2Z"/>
<path d="M669.9 86.2L666.8 87L670.1 87Z"/>
<path d="M201.3 97.2L202.3 94.4L202 93.9L198.4 97.2Z"/>
<path d="M196.5 97.3L201.3 92.9L196.5 93.3Z"/>
<path d="M684.9 112L685.9 104.1L685.1 103L681 102.2L678.3 104L677.2 106.2L678.9 112.6Z"/>
<path d="M709.5 106.9L710.5 100.1L706.6 98.7L701.1 101.7L704.4 107.1L707.3 107.7Z"/>
<path d="M572.9 97.9L578.2 96.4L579.5 93.7L578.2 89.9L575.4 89.2Z"/>
<path d="M574.1 89.2L570.7 88.4L569.4 95L571.8 97Z"/>
<path d="M214 97.9L209.6 100.7L216.6 100.1L215.8 98.4Z"/>
<path d="M208.8 101.7L217.3 101.6L217 101Z"/>
<path d="M208.5 102.6L209.5 105.1L213.5 104.9L211.5 102.5Z"/>
<path d="M214.7 104.8L217.5 104.7L218.2 103.9L217.6 102.6L213.4 102.6Z"/>
<path d="M492 71.6L489.8 76.8L493.7 75.9L495.2 71.6Z"/>
<path d="M491 71.5L487.2 71.5L486.7 77.3L488.6 77.2Z"/>
<path d="M216.2 114.9L216 113.9L208.2 112.7L208.2 119.2L208.5 119.4Z"/>
<path d="M209.7 120.4L211.1 121.6L212.4 120.3L211.2 119.5Z"/>
<path d="M213.4 119.7L216.4 116.6L216.4 116.1L212 118.7Z"/>
<path d="M198 129.1L196.7 129.2L196.7 132L199.2 131.8Z"/>
<path d="M748.3 112.1L749.8 108.4L749.6 107.9L746 106.5L744.7 113.4Z"/>
<path d="M744.9 105.8L744.1 105.5L742 107.3L744.3 109Z"/>
<path d="M656 104.3L656.2 106L657.7 106.3L657.5 103.4Z"/>
<path d="M659.2 106.5L660 106.7L660.8 103L659.3 102.4L658.9 102.6Z"/>
<path d="M656.3 107.6L656.4 108.1L658 109.2L659.5 109L659.6 108.1Z"/>
<path d="M660.7 109L661.7 108.8L662.9 106.4L661.4 105.9Z"/>
<path d="M663.2 105.4L663.8 104L662.1 103.3L661.8 104.9Z"/>
<path d="M235.7 95L238.5 92.7L238.8 91.3L237.5 89.5Z"/>
<path d="M236.5 89.5L230.1 90.2L230.4 92.7L234.7 94.6Z"/>
<path d="M586.3 103.5L588.6 95.7L587.4 94.2L583.1 94.2L584 103.2Z"/>
<path d="M579.2 96.7L582.4 97.3L582.2 95.5L581.5 94.3L580.3 94.3Z"/>
<path d="M579.7 97.9L580 98.4L582.7 99.6L582.6 98.4Z"/>
<path d="M581.1 100.1L582.7 102.8L583 102.9L582.7 100.8Z"/>
<path d="M235.9 100.4L238.1 98.7L236 98.7Z"/>
<path d="M240.2 97.5L242.1 96L238.9 93.6L236.1 95.9L235.9 97.4Z"/>
<path d="M237.2 101.2L241.7 101.4L240.8 98.4Z"/>
<path d="M242.8 101.6L245.4 101.7L245 97.9L243 96.6L241.7 97.5Z"/>
<path d="M546.4 72.6L549.7 78.5L549.3 72.7Z"/>
<path d="M551.1 78.5L555.2 72.7L550.7 72.6Z"/>
<path d="M305.7 83.1L307.5 87L309.3 85.1Z"/>
<path d="M306.6 82.3L309.7 84.2L312.8 81.7L308 82.1Z"/>
<path d="M308.1 88L308.4 88.7L309.4 88.4L311.5 86.2L310.9 85.2Z"/>
<path d="M312.4 85.1L314.9 82.5L314.8 81.7L311.9 84.2Z"/>
<path d="M547.3 91.2L542.2 93.6L548.3 95.7Z"/>
<path d="M539.3 95.4L543.4 99.8L546.6 99.8L548.3 97.6L548.2 97.1L541 94.6Z"/>
<path d="M727.4 124L732.1 120.9L723.9 117.5L723.7 118.8Z"/>
<path d="M724.2 116.4L733.2 120.2L734.1 119.7L733.3 118.4L725.7 115.5Z"/>
<path d="M652.3 94.2L656.3 93.7L656.6 92.7L652.8 90.3L650.9 91.4L651.4 93.5Z"/>
<path d="M656.7 91.3L657.9 87.7L654.3 89.8Z"/>
<path d="M658.1 86L655.3 83.2L654 83L650.1 87.2L650.8 90.3Z"/>
<path d="M249.6 103.5L253.4 108.9L259.9 104.5L260.1 104L255 99.2Z"/>
<path d="M562.6 76.6L565.9 77.8L566.7 73.2L561.1 73Z"/>
<path d="M567.3 78.1L568.2 78.5L568.9 77L567.7 76.2Z"/>
<path d="M568.1 73.3L567.8 74.5L569.6 75.7L570.7 73.4Z"/>
<path d="M396.6 75L397.3 76.3L398.6 76L400.2 74.8Z"/>
<path d="M571.9 74.3L569.5 79.5L570.4 81L572.7 80.3L573.5 78.9Z"/>
<path d="M574.5 77.5L575.7 75.1L573.3 74Z"/>
<path d="M577.8 78.9L577.6 76.3L576.8 75.9L575.7 78Z"/>
<path d="M316.7 117.1L313.7 115.6L311.4 116.4L313.9 117.4Z"/>
<path d="M308.2 117.9L311 117.6L309.8 117.1Z"/>
<path d="M438.9 80.6L438.9 86.3L440.8 81.7Z"/>
<path d="M443.9 86.1L446 85.1L445.9 84.5L441.6 82.1L440.9 83.9Z"/>
<path d="M639.4 111.7L638.5 109.6L633.2 107.5L630.4 109.9L630.6 110.4L639.2 112.1Z"/>
<path d="M631 111.8L632.3 115.4L635.2 116L636.7 116.1L638.6 113.3Z"/>
<path d="M368.1 113.7L372 113.5L372.4 113.5L372.1 112.6Z"/>
<path d="M363.5 110.8L362.7 108.6L356.5 109L354.6 111.4L355 114.3L360.7 114.1Z"/>
<path d="M703.6 89.5L706.2 89.1L703.6 88.6Z"/>
<path d="M531.5 83.8L531.4 85L536.7 88.6L537.6 86.8L535.1 82L534.1 81.7Z"/>
<path d="M530.9 88L530.8 88.8L536.4 89.7L533 87.5Z"/>
<path d="M530.7 89.8L535.8 90.9L535.9 90.7Z"/>
<path d="M382.4 85.6L387.2 81.2L385.3 78.4L380 83.9L380.2 85Z"/>
<path d="M384.5 77.2L382 76.4L378.9 79.3L379.5 82.4Z"/>
<path d="M534.1 105.5L535.3 105.6L536.3 98.6L532 102.6Z"/>
<path d="M536.4 106L537.2 106.1L537.2 100.7Z"/>
<path d="M538.2 106.2L540.2 103.7L538.3 101.9Z"/>
<path d="M540.8 103L542.4 100.7L538.3 96.3L537.7 96.8L537.3 99.6Z"/>
<path d="M656.3 82.7L659.4 85.7L665.2 85.8L666.2 82.2L657.9 80.9Z"/>
<path d="M677.1 120.5L677 118.9L675.3 119.4Z"/>
<path d="M669.5 116.1L673.6 118.6L676.8 117.7L676.4 116.2Z"/>
<path d="M668.8 116.9L669 120.8L676.2 122.1L676.6 121.6Z"/>
<path d="M623.8 115.2L624.3 110.9L616.9 110.7L614.9 113.1L615.2 114.5Z"/>
<path d="M352.8 80L354.5 85.3L361.3 86.7L362.4 85.9L362.2 80Z"/>
<path d="M724.2 91.9L730.3 96.8L733.6 95.4L733.7 93.7Z"/>
<path d="M439.3 77.2L440.2 76.7L439.3 73.2L437.4 73.3Z"/>
<path d="M440.6 73L441.3 76.2L443.3 75.1L442.6 73Z"/>
<path d="M395.4 81.2L391.4 89.4L391.5 90.1L397.8 84.8Z"/>
<path d="M391.4 91.6L391.5 92L394.4 92.2L396.9 87.1Z"/>
<path d="M393.4 81.6L390.3 82.4L390.5 83.8L392.7 83.2Z"/>
<path d="M748.7 113.3L747.2 113.9L748.8 120L753.2 118Z"/>
<path d="M744.3 115L746.7 116.7L746 114.4Z"/>
<path d="M744.1 116.6L747.4 120.4L747.5 120.3L747 118.6Z"/>
<path d="M291.5 115.4L291.7 111.7L287.4 116.2L288.2 117.2Z"/>
<path d="M290.7 110.8L287.8 108.4L287.9 113.8Z"/>
<path d="M286.3 109.2L285.8 109.5L284.8 112.4L286.4 114.4Z"/>
<path d="M347.3 90.2L345.9 88.6L343.4 94.6L344.1 95Z"/>
<path d="M345.1 87.8L343.7 86.1L339.6 92.3L342.5 94Z"/>
<path d="M343.1 85.2L342.7 84.6L339.5 87.4L341.6 87.4Z"/>
<path d="M676.8 86.6L675.5 87.9L675.6 88.4L682.6 88.6Z"/>
<path d="M675.7 89.9L675.9 93L679.4 94.8L682.9 90.1Z"/>
<path d="M649.2 86.2L652.8 82.3L651.5 80.2L646.7 85.8Z"/>
<path d="M648.9 79.7L644.8 79.2L642.7 82.1L643.8 84.2Z"/>
<path d="M738.7 127.9L734.3 129.9L736.1 131.9L739.6 132.5Z"/>
<path d="M731.6 131.2L732.1 131.2L734.1 131.6L733.1 130.5Z"/>
<path d="M310.2 98.1L311.4 98.5L317.7 95.2L317.3 94.4L309.3 94.4Z"/>
<path d="M312.3 91.2L309.7 89.7L308.3 90L309.1 93.2L310.8 93.2Z"/>
<path d="M254.6 93.7L250.6 93.4L251.1 100.7L254.4 98.1Z"/>
<path d="M249.5 93.6L245.8 97.9L246.3 102L248.6 102.8L250.1 101.7Z"/>
<path d="M235.9 127L238.4 123.6L236.7 122.5L233 123Z"/>
<path d="M235.5 121.4L232.5 119.5L230.4 119.8L231.9 121.9Z"/>
<path d="M229.3 119.9L227.7 120.1L227.4 120.6L228.8 127.8L231 128L234.8 127.5Z"/>
<path d="M280.5 86.1L276.8 90.7L277 93.3L279.6 94.9L288 92.1L286.2 86.8Z"/>
<path d="M517.8 102.5L519.6 103.3L524.6 98.7L517.3 97.7Z"/>
<path d="M525.4 98L526.7 96.8L526.5 96.2L521.7 96.1L520.7 97.2Z"/>
<path d="M520.2 96.2L517.3 96.2L517.3 96.6L519.5 96.9Z"/>
<path d="M520.5 103.6L523.3 104.7L526 103.3L524.2 100.3Z"/>
<path d="M526.8 102.6L528.6 101.6L527.1 97.9L525.1 99.7Z"/>
<path d="M571.8 105.3L579.2 105.5L581.4 103.3L581.2 103L572.4 102Z"/>
<path d="M580.3 101.4L578.2 97.6L574.4 98.7L577.5 101.1Z"/>
<path d="M572.8 99.1L572.5 100.8L575.3 101.1Z"/>
<path d="M261 104.8L264.3 108.9L265.2 102L263.6 102L261.2 104.1Z"/>
<path d="M265.3 110L267.3 112.2L271.4 104.1L270.5 102.3L266.3 102.2Z"/>
<path d="M329.7 91.2L332.6 87.4L332.4 87.1L329.8 90.1Z"/>
<path d="M331.5 85.8L330.9 85L330.4 85L330.1 87.4Z"/>
<path d="M715.1 98.1L715.9 98.2L715.7 96.5L713.5 95.4L713.5 96.1Z"/>
<path d="M715.6 94.7L715.2 91.1L713.8 90.8L713.6 93.8Z"/>
<path d="M717.3 98.5L719.1 98.6L721.3 92.3L716.6 91.3Z"/>
<path d="M210.4 122.7L207.4 120.1L207 120.2L207.5 127.6L208.1 127.7Z"/>
<path d="M205.8 120.7L201.5 121.8L201.4 124.4L205.9 121.6Z"/>
<path d="M201 125.9L206.4 127.4L206.1 122.8Z"/>
<path d="M239.4 125.1L238 126.8L241.2 126.4Z"/>
<path d="M661.7 94.2L657.6 93.4L657.4 93.9L658.2 94.5Z"/>
<path d="M665.8 93.6L665.8 92.1L658.3 91.4L658.1 92Z"/>
<path d="M665.9 90.7L665.9 87.8L665.3 87L659.6 86.8L658.6 90Z"/>
<path d="M687 106L686.2 112.4L688.9 114.7L690.7 114.3Z"/>
<path d="M691.8 114.2L695.2 113.3L692.7 106.2L687.5 104.6Z"/>
<path d="M311.6 107.1L309.9 104.5L309.3 107.2Z"/>
<path d="M311 100L310.4 102.4L312.7 106.2L312.8 106Z"/>
<path d="M310 99.1L304.4 101.2L304.8 107.7L307.9 107.6Z"/>
<path d="M560.2 97.5L558.4 98.8L564.4 106.5L565.4 106.3Z"/>
<path d="M557.8 100L557.1 103.8L557.8 104.8L560.7 103.7Z"/>
<path d="M558.8 105.9L559.8 107.2L560.8 107L559.3 105.7Z"/>
<path d="M423.8 77.1L424.2 77.3L423.3 73.6L422.9 73.6Z"/>
<path d="M424.5 73.8L425.3 77L428.2 73.6L428 73.6Z"/>
<path d="M426 77.8L427.4 78.4L430.3 73.3L429.9 73.4Z"/>
<path d="M275.7 93.2L275.6 91L272.5 88.8L270.3 94.6L272.5 95.8Z"/>
<path d="M265.8 92.5L269.2 94.4L271.6 87.8L271.3 87.6Z"/>
<path d="M270.3 87.1L269.9 86.9L266.2 89.1L266 91.1Z"/>
<path d="M200.7 126.9L199.1 128.5L200 130.3L208 129.3L207.9 128.9Z"/>
<path d="M200.2 131.3L200.5 131.9L203.9 131.5L208.1 131L208.5 130.3Z"/>
<path d="M717.1 125.4L719 128.4L726.4 124.4L723 119.6L717.4 123.2Z"/>
<path d="M255.1 121.9L258.9 120.9L257.5 120.3Z"/>
<path d="M253.9 123.4L254.8 124.7L257.7 124.3L257.3 122.5Z"/>
<path d="M258.9 124.4L259.9 124.2L263.8 123.7L263.6 122.9L260.4 121.5L258.4 122.1Z"/>
<path d="M214.1 96.9L213.4 91.8L210.8 92Z"/>
<path d="M215.1 97.2L216 97.4L219.9 92.7L219.8 91.9L218.7 91.2L214.3 91.7Z"/>
<path d="M291 93.9L296.6 98.7L299.7 98L300 97.2L293.4 91.9Z"/>
<path d="M300.2 96.2L301.1 92.7L297.1 93.7Z"/>
<path d="M300.6 91.7L297.4 88.8L294.4 91.3L296.2 92.8Z"/>
<path d="M626.3 77.3L626.3 80.9L627.5 82.5L633.9 83L634.6 82.3L627.6 77.4Z"/>
<path d="M630.1 77.6L635.4 81.3L635.4 81.3L634.8 78.1Z"/>
<path d="M728.2 100.4L724.8 100.9L724.6 106.8L727.8 107.9L729.3 107.1Z"/>
<path d="M723.8 101L721.4 101.4L721.3 105.8L723.6 106.6Z"/>
<path d="M443.4 107.1L439.3 106.1L439 108.1L443.7 107.6Z"/>
<path d="M629.1 98.5L634.2 92.2L629.7 93.5L628.3 96.2Z"/>
<path d="M629.7 99.9L632.3 101.4L635.8 98.8L635.2 93.2Z"/>
<path d="M613.3 99.7L613.1 100.4L615.4 101.7L615.4 99.2Z"/>
<path d="M616.6 102.2L618.8 101.5L620.8 95.8L617.8 91.9L616.4 92.6Z"/>
<path d="M318.7 92.2L319.5 91.9L321.9 87.3L321.7 87.3Z"/>
<path d="M321.6 91.2L324.6 90.1L323.6 87.3Z"/>
<path d="M318.6 93.9L318.9 94.5L321.8 93.9L320.7 93.1Z"/>
<path d="M320.2 95.7L321.4 96.2L323.4 95Z"/>
<path d="M324.6 94.4L326.1 93.5L325.3 91.2L321.8 92.4Z"/>
<path d="M286 101.9L282 101.1L280.6 103.8L287.7 104.7Z"/>
<path d="M280.8 105.4L285.2 108.1L287.3 106.9L287.5 106.2Z"/>
<path d="M551.5 88.5L552.9 89.4L558.4 84.7L553.6 84.4Z"/>
<path d="M553.7 90.2L559.2 93.6L560.9 87.3L559.3 85.3Z"/>
<path d="M608.4 78.1L604.9 76.2L601.4 80.6L601.8 82.4L607.6 84.4L609.3 82.5Z"/>
<path d="M383 112.9L382.6 112.2L379 111.7L377.8 113Z"/>
<path d="M373.4 111.8L375.5 112.4L376.4 111.2L374.1 110.9Z"/>
<path d="M735.5 95.9L736.6 96.7L737.6 96.7L738.7 94.8L736.9 94.5Z"/>
<path d="M739 96.7L739.7 96.7L741.1 95.2L740.1 95Z"/>
<path d="M236.2 102.6L237.5 109.4L240.4 110.3L244.7 103Z"/>
<path d="M386.6 102.8L384.5 104.2L384.4 105.6L385.9 105.7L387.8 103.2Z"/>
<path d="M387.7 105.9L392.8 106.3L393.3 105.4L389.4 103.8Z"/>
<path d="M384 107L383.6 111.5L384 112.1L390.1 111.4L392.2 107.6Z"/>
<path d="M276.7 106.2L272.3 104.8L268.2 112.9L269 114.2L271.5 115.1L276.7 113.8Z"/>
<path d="M420.4 110.1L426.8 109.5L425.1 104.6L425 104.5Z"/>
<path d="M423.7 104.1L422.5 103.6L418 106.4L418.3 110.1Z"/>
<path d="M408.2 81.9L406.8 81.5L405.8 85.2L409.3 85.2Z"/>
<path d="M405.6 82.4L402.3 85.2L402.3 85.2L404.9 85.2Z"/>
<path d="M403.8 86.8L405.7 89.7L404.8 87.2Z"/>
<path d="M409.4 87.8L409.9 87.5L409.5 86.2L406 86.2Z"/>
<path d="M694.5 87L698 88.6L698.9 87.8Z"/>
<path d="M699.1 89.4L700.9 90.3L702.2 89.8L702.2 88.1L700.9 87.8Z"/>
<path d="M545.7 74.8L546.7 79.1L547.6 78.6Z"/>
<path d="M543.4 72.6L541.9 72.5L541.2 78.8L543.8 74Z"/>
<path d="M542.4 79.7L544 80.6L545.4 79.9L544.4 76Z"/>
<path d="M584 83.4L587.6 87L586.4 81L585.7 81.1Z"/>
<path d="M587.3 81.1L589.1 88.3L593 86.6L591.4 80.9Z"/>
<path d="M254.2 110L257.2 113.4L259.8 106.2Z"/>
<path d="M258.5 113.9L265.3 112.1L261.1 106.9Z"/>
<path d="M505.5 75.8L506.6 75.6L507.2 74.1L505.3 74.6Z"/>
<path d="M507.8 72.4L508 71.7L504.9 71.7L505.1 73.2Z"/>
<path d="M508.4 75.3L509.7 75.2L508.9 73.7Z"/>
<path d="M511.2 75.3L513.5 75.1L512.6 71.5L509.3 71.5Z"/>
<path d="M506.8 77.1L508.6 78.6L510 77.8L508.2 76.9Z"/>
<path d="M320.8 111.5L318.8 107.9L316.3 110.5Z"/>
<path d="M317.9 107.1L317.6 106.6L314 106.9L313 108.1L313.3 109.5L315.2 109.9Z"/>
<path d="M313.6 111.1L314.3 113.9L319.6 112.4Z"/>
<path d="M315.6 115L316.9 115.7L318.1 114.3Z"/>
<path d="M633 102.3L633.5 105.7L640 100.5L636.5 99.7Z"/>
<path d="M634.4 106.5L638.7 108.3L642.5 102.2L641.9 101.1L641.4 100.9Z"/>
<path d="M223.2 90.8L229.1 90.7L229 90.1Z"/>
<path d="M223.8 91.8L225.9 95.3L229.3 92.9L229.1 91.8Z"/>
<path d="M221.9 91.1L221.3 91.2L221 92.4L223.6 93.9Z"/>
<path d="M604 101.9L603 103.7L604.2 104.1L606.6 103.5Z"/>
<path d="M602.3 104.9L600.3 108.6L605.8 111.8L608.4 110.8L608 106.9Z"/>
<path d="M403.1 107.7L401.8 110.4L401.9 110.7L402.3 110.7Z"/>
<path d="M403.3 103.9L400.2 103.4L401.3 107.9Z"/>
<path d="M398.5 103L397.4 102.8L395.5 105L397.3 107.1L399.1 105.2Z"/>
<path d="M398.3 108.2L400.3 110.6L400.3 110.6L399.4 107Z"/>
<path d="M513.6 71.6L514.6 75.3L515.7 71.6Z"/>
<path d="M518 75.6L518.4 75.6L521.8 71.8L518.4 71.8Z"/>
<path d="M372.4 104.4L364.2 106.2L363.6 108L364.6 110.5L367.6 112.3L372.3 111.4L373.3 110.1Z"/>
<path d="M667.6 116L666.6 115.8L663.9 117.2L666.7 120.3L667.9 120.5Z"/>
<path d="M661 119L664.2 119.6L664.3 119.6L662.8 118Z"/>
<path d="M327.6 105.6L322.1 101.6L321 103L324.1 106.8L327.5 106.4Z"/>
<path d="M320.3 104.2L319 105.9L319.6 107L322.3 106.7Z"/>
<path d="M320 108.2L321.8 110.8L326.8 110.5L327.4 107.5Z"/>
<path d="M665.9 103.2L666.6 103.7L668.3 101.4L667.4 100.2Z"/>
<path d="M667.3 104.2L670.6 106.7L672.3 106.4L668.9 102.1Z"/>
<path d="M673.3 106.1L676.1 105.6L677 103.7L670.5 102.6Z"/>
<path d="M674.4 102L668.6 98.1L668 99.3L669.5 101.2Z"/>
<path d="M256.2 92.6L262.6 93.8L264.5 92.3L264.8 89.2L261.7 87.1L259.5 87.3L257.1 88.7Z"/>
<path d="M617.5 103.6L617.4 109.4L624.7 109.5L623.1 104.1L619.4 102.8Z"/>
<path d="M405.7 80.7L403.5 76.4L399.8 77.2L400.7 84.2L401.5 84.2Z"/>
<path d="M398.3 77.3L397.6 77.5L396.5 80.3L399.2 84.1Z"/>
<path d="M515.7 105.4L515.9 106.7L517.7 103.8L517.6 103.7Z"/>
<path d="M517.4 107.2L519.1 107.3L519.3 104.5L519.1 104.4Z"/>
<path d="M520.5 107.6L522.5 107.7L522.6 105.6L520.7 104.9Z"/>
<path d="M481 86.1L481.3 86.8L483.3 87.3L484.9 80.2Z"/>
<path d="M484.5 87.5L486.2 87.9L489.1 85.2L486.6 78.5Z"/>
<path d="M570.6 106.7L567.4 107.5L566.9 110.6L572.5 111Z"/>
<path d="M340.2 110.1L344.5 109.4L343.4 109.1Z"/>
<path d="M341.6 108.4L337.7 107.3L338.2 109.4Z"/>
<path d="M337.9 106L345.7 108.2L346 107.7L341.6 102.4L340.4 102.6Z"/>
<path d="M353.6 111.6L348.6 112.1L348.7 114.6L353.9 114.4Z"/>
<path d="M351.2 110.6L348.6 109.5L348.6 110.9Z"/>
<path d="M347.5 108.8L347 108.6L345.7 110.1L346.3 112.8L347.6 111.8Z"/>
<path d="M297.3 117.3L299.3 114.8L296.9 114.2L294.3 116Z"/>
<path d="M294.9 113.8L292.9 113.2L292.8 115.1L292.9 115.2Z"/>
<path d="M297.8 109.4L297.3 112.9L300.2 113.8L301.8 111.8L301.8 111.1Z"/>
<path d="M296.5 109.6L292.7 111.4L292.7 111.7L296.1 112.6Z"/>
<path d="M561.6 86.6L566.4 86.1L561.2 80L559.2 83.6Z"/>
<path d="M566.9 80.1L566.9 85.1L567.7 86.1L569 85.9L569.3 83.7Z"/>
<path d="M565.7 79.2L562.5 78L562 78.9L565.6 83.2Z"/>
<path d="M471.4 88.9L479.3 89.3L480.2 87.3L479.3 85.5L471.8 84.9L470.9 88.3Z"/>
<path d="M198.2 127.8L199.9 126L200 124.6L196.6 122.6L196.6 127.9Z"/>
<path d="M200.2 123.4L200.4 121.5L199.4 120.5L196.5 120.2L196.5 121.1Z"/>
<path d="M198.4 119.3L197.2 118L196.5 117.9L196.5 119.1Z"/>
<path d="M522.7 83.1L522.9 86.6L530.2 85.2L530.4 83.8L524.3 82.3Z"/>
<path d="M524.1 87.5L528.4 90.7L529.6 89.9L529.9 86.4Z"/>
<path d="M429.4 93.1L430.6 97L432.6 96L432 94.5Z"/>
<path d="M434.9 94.8L436.4 94L436.4 92.4L434.4 92.4Z"/>
<path d="M430.8 98.1L431.3 99.8L432.4 100L435.2 95.8Z"/>
<path d="M433.3 100.3L437 101.1L436.7 95Z"/>
<path d="M523.9 71.7L525.6 73.6L527.1 72.7L525.8 71.8Z"/>
<path d="M526.3 74.3L526.9 74.9L530.3 75L527.9 73.3Z"/>
<path d="M529.2 72.8L531.6 74.5L532.1 73.7Z"/>
<path d="M530.1 71.9L532.9 72.7L533.4 71.9L532 71.9Z"/>
<path d="M748.6 129.2L748.7 131.1L751 128.5Z"/>
<path d="M753.9 127.8L748.7 133.9L750 134.2L755.2 130.6L755.2 127.8Z"/>
<path d="M698.2 123.7L695.3 124.9L699.3 125.6Z"/>
<path d="M680.5 95.7L681 98.9L683.6 96.5Z"/>
<path d="M684.7 95.3L686.9 93.3L684 91.2L681.6 94.4Z"/>
<path d="M681.2 100.4L681.4 100.9L685.3 101.7L689.8 95.2L688.2 94Z"/>
<path d="M525.1 81.3L525.7 81.5L531.6 76.6L531.4 76.1L527.1 76Z"/>
<path d="M527.1 81.9L532.5 78.7L532.1 77.7Z"/>
<path d="M728.8 108.9L733 111.1L733.1 109.1L730 108.3Z"/>
<path d="M727.9 109.8L726.3 114.7L729.1 115.8L730.1 111Z"/>
<path d="M730 116.2L731 116.6L732.6 112.3L730.9 111.4Z"/>
<path d="M732 116.8L733.1 117.2L733.2 113.4Z"/>
<path d="M625.3 82L617.9 83.8L618.1 84.9L626.3 83.3Z"/>
<path d="M618.7 88.6L618.9 89.5L621.8 88.6L621.1 87.1Z"/>
<path d="M623.1 88.5L625.4 87.8L626.3 84.6L621.8 85.5Z"/>
<path d="M481.8 102.5L482.8 105.1L484.5 105.2Z"/>
<path d="M474.9 105.6L479.2 105.5L477.5 101.5L475.6 102.2Z"/>
<path d="M368.5 96.3L373 102.9L376.2 100.8L376.2 95.1L375.3 94.2Z"/>
<path d="M592.7 74.8L594.2 76.6L595.1 75Z"/>
<path d="M405.7 102.7L411.3 103.5L412.3 97.7L406.5 96Z"/>
<path d="M588.6 112.2L592 112.5L596.2 112.8L596.2 112.2Z"/>
<path d="M250.1 92L251.5 92.1L247.5 88.5Z"/>
<path d="M253.7 92.3L254.6 92.4L255.2 90.1L250.5 89.3Z"/>
<path d="M251.7 88L255.6 88.7L255.7 88.4L255.1 87.7Z"/>
<path d="M664 110.7L666.9 114.5L667.6 114.6L668 113.1Z"/>
<path d="M439.4 78.8L439.2 79.5L441.4 80.8L440 79Z"/>
<path d="M444.1 82.1L446.1 83.2L447.2 81.6L442.5 80.1Z"/>
<path d="M448.2 80.5L449.5 78.6L445.5 75.1L440.6 77.9Z"/>
<path d="M652.9 117L648.8 111.9L648.1 112.3Z"/>
<path d="M647 112.9L646 113.4L646.3 116.2L649.8 115.7Z"/>
<path d="M358.5 93L360.4 87.8L354.4 86.7L352.4 90.4L353.3 91.7Z"/>
<path d="M356.8 107.7L357.3 107.6L360.9 100.4L360.7 99.8L355.1 102.2Z"/>
<path d="M359 107.7L362.5 107.4L363.1 105.8L361.7 102.1Z"/>
<path d="M651.8 101L657.7 96.5L657.5 95.5L656.5 94.8L652.7 95.2Z"/>
<path d="M652.8 101.8L655.3 103.3L658.6 101.3L658 97.8Z"/>
<path d="M202.6 111L199.7 107.7L198.6 107.8L198.1 111.6L201.6 112.1Z"/>
<path d="M197.6 107.9L196.5 108L196.5 111.3L197.2 111.4Z"/>
<path d="M196.7 113.3L196.7 116.6L197.2 116.7L199.3 114.3Z"/>
<path d="M631.2 115.7L630.9 114.9L628.4 112.9L624.9 114.4L624.8 115.2Z"/>
<path d="M629.5 111.2L629.2 110.3L625.8 110.4L625.1 113Z"/>
<path d="M416.5 94.7L420.3 95.8L421.5 94.9L417.7 87.4L415.8 89.2Z"/>
<path d="M418.8 86.8L422.6 94.4L426.7 90.8L426.5 90Z"/>
<path d="M349.7 78.8L349.4 78.5L346.9 78.7L348.4 79.5Z"/>
<path d="M344.7 78.8L344.3 81.6L347.2 80.1Z"/>
<path d="M340.5 79.1L343.1 82.4L343.3 82.3L343.7 78.8Z"/>
<path d="M499.1 90.9L503.3 88.5L503.5 88L501 85.4L498.4 90.7Z"/>
<path d="M498.1 82.3L496.6 83.9L499.7 84.5L499.9 84.1Z"/>
<path d="M495.4 84.8L494.2 86.1L495.9 90.4L497 90.7L499.5 85.6Z"/>
<path d="M709.9 124.9L712.4 118.6L709.2 119.6Z"/>
<path d="M710.9 125.3L714.8 125L711.6 123.7Z"/>
<path d="M713.5 118.3L711.7 122.7L716.3 124.6L716.6 123Z"/>
<path d="M334.3 115.3L336.8 115.1L336.5 113.4L335.4 113.3Z"/>
<path d="M331.4 113L329.7 112.9L329.9 115.8L332.3 115.6Z"/>
<path d="M651.1 101.9L647.9 103.7L648.3 105.5L655.2 108.1L654.9 104.2Z"/>
<path d="M648.7 106.7L649.4 110.3L651.3 109.6L651 107.6Z"/>
<path d="M486.6 91L486 89L484.6 88.7L486 90.5Z"/>
<path d="M483 88.7L481.4 88.2L480.9 89.3L483.6 89.4Z"/>
<path d="M696 113.1L703.2 107.7L699.6 101.8L698.4 101.3L693.6 106Z"/>
<path d="M239.4 123L248.1 118.7L247.9 114.6L241.4 112.4Z"/>
<path d="M366.8 113.3L364.2 111.8L362.6 113.7L366.8 113.7Z"/>
<path d="M578.9 106.9L571.9 106.6L573.2 109.6L578.9 107.6Z"/>
<path d="M573.6 110.7L573.8 111.2L579.3 111.6L579.1 108.7Z"/>
<path d="M739.7 98.2L737.3 98.2L737.4 102.9L743.4 102.6L743.4 101.6Z"/>
<path d="M737 104.2L737.1 107.1L739.9 107.8L743.7 104.8L743.7 103.9Z"/>
<path d="M334.9 88.1L333.8 88L332.4 89.7L334.4 91.8Z"/>
<path d="M331.8 90.8L329.6 93.7L332.7 96.7L334.9 96.5L336 95.1Z"/>
<path d="M287.2 117.9L283.6 113.5L279.3 115.1L281.9 121L286.3 120.4Z"/>
<path d="M505.5 99.9L507.6 96.7L503.7 89.9L499.9 92.1L500.2 97.6Z"/>
<path d="M598 92L596.1 96.2L596.8 97.5L601.6 99.3Z"/>
<path d="M603.8 100.1L604 96.6L602.2 96.9Z"/>
<path d="M604.4 95.4L604.6 93L598.9 91.2L601.3 95.9Z"/>
<path d="M288.5 107.3L289.7 108.3L290.8 104.5L289 105.2Z"/>
<path d="M290.5 108.9L292.5 110.3L291.4 105.8Z"/>
<path d="M293.6 109.4L296.4 108.2L294.5 103.5L292.3 104.3Z"/>
<path d="M265.7 87.9L268.3 86.4L263.9 86.8Z"/>
<path d="M410.4 110.9L412.9 110.7L416.1 106.2L412.1 104.6L411.6 104.9Z"/>
<path d="M414.1 110.7L417.2 110.5L416.9 106.7Z"/>
<path d="M540.1 79.8L536.4 81.7L538.7 86.2L543.1 85.9L543.4 81.7Z"/>
<path d="M448.6 102.1L449.9 100.9L445.4 97.1L438.7 102.4L438.8 102.7Z"/>
<path d="M440 104.9L443.6 105.8L447.1 103.5L444.5 103.7Z"/>
<path d="M350.5 98.7L352.2 92.2L348.9 98.2Z"/>
<path d="M348.2 94.5L346.9 97.6L348.1 97.9L349.6 95.2Z"/>
<path d="M345.9 94L344.8 95.7L345.2 97Z"/>
<path d="M636.2 91.9L636.9 98.6L639.5 99.2L639.8 97Z"/>
<path d="M640 95.5L640.5 91.6L637.4 91.7Z"/>
<path d="M640.9 96.1L640.8 99.6L642 94.7Z"/>
<path d="M641.6 99.8L642 99.9L643.6 95.2L643 94.4Z"/>
<path d="M551.3 107.6L552.7 109.3L557.9 109.7L558.5 108.2L556.2 105Z"/>
<path d="M625.8 101.2L627.9 99.6L627 97Z"/>
<path d="M623.9 96.7L622.1 96.6L621.1 99.6L622.9 100.2Z"/>
<path d="M620.3 100.7L619.9 101.8L622.5 102.7L622.9 101.5Z"/>
<path d="M209.5 106.1L207.7 111.4L216 112.6L217.2 105.8Z"/>
<path d="M610 77.9L610.4 79.9L612.1 80.6L611 77.2Z"/>
<path d="M614.1 82.5L616.5 82.7L616.5 77L612.8 78.5Z"/>
<path d="M615.7 76.3L612.2 76L612 76.1L612.5 77.5Z"/>
<path d="M377.7 79.8L373.2 79.6L376.2 87.2L378.8 85.3Z"/>
<path d="M372.3 80.5L371.8 86.2L375.1 88.2L375.3 88Z"/>
<path d="M745.1 101.7L744.9 104.4L749.7 106.2L752.7 98.7L751.2 98.3Z"/>
<path d="M259.3 101.6L255.7 96.3L255.6 98.2Z"/>
<path d="M261.3 102.4L262.2 101.7L260.2 99.5L259.8 100.2Z"/>
<path d="M255.7 93.9L255.7 94.3L259 99.3L259.5 98.4Z"/>
<path d="M262.4 99.7L262 95.4L258 94.6Z"/>
<path d="M211.9 122.4L213.3 123.3L214.3 122.4L213.9 120.4Z"/>
<path d="M215.1 121.7L218.3 118.9L216.8 117.4L214.6 119.7Z"/>
<path d="M214.1 123.7L216.8 125.3L215.9 122.1Z"/>
<path d="M218 125.7L218.5 126L220.7 121.8L218.9 119.9L216.9 121.6Z"/>
<path d="M718.9 113.3L718.4 108.4L714.1 108.2L716 114.3Z"/>
<path d="M712.6 107.8L710.4 107.8L711.7 110.1L713.1 109.4Z"/>
<path d="M712.4 110.9L714.6 114.9L714.6 114.9L713.3 110.6Z"/>
<path d="M516.2 91.8L518 89.8L511.7 84.6Z"/>
<path d="M517.5 87.7L517.2 83.7L513.7 84.4Z"/>
<path d="M519.2 88.7L521.5 86.6L521.4 83.3L520.8 83L518.8 83.4Z"/>
<path d="M728.4 99.3L729.5 97.6L725 96L725.8 99.7Z"/>
<path d="M720.3 99.3L721.2 100.3L723.1 100L723.8 97Z"/>
<path d="M585.9 80L591.4 79.7L591.7 79.4L586 79.3Z"/>
<path d="M592.9 78L593.2 77.6L590.7 74.7L587 74.4L586.4 77.8Z"/>
<path d="M289.7 94.1L288.5 93.2L284.5 94.6L287.8 97.5Z"/>
<path d="M282.9 95L280.4 95.8L282.1 99.7L286.2 100.4L287.1 98.8Z"/>
<path d="M386.3 92.7L387.4 93.3L390.5 92L389 82.3L388.5 82L383.3 86.7Z"/>
<path d="M336.7 105.4L339.3 102L336.5 99.2L331.7 101.9L331.3 103.6Z"/>
<path d="M335.4 98.4L334.9 97.9L333 98.1L332.4 100.1Z"/>
<path d="M593 103.2L595.3 98.2L594.6 97L589.7 96.4L587.5 103.8L587.9 104.1Z"/>
<path d="M702.8 91L701.5 91.5L700.7 92.8L701.4 94.9L703 91.5Z"/>
<path d="M697.6 97.6L698.7 100.4L699.6 100.8L701.5 96.2Z"/>
<path d="M701.3 99.8L704.4 98.1L703.1 95.5Z"/>
<path d="M705.5 97.8L706 97.6L703.9 92.6L703.5 93.7Z"/>
</g>
<path d="M443 63.3L454.4 70.3L474.6 74L462 82L443 91.8L465 93.5L483.5 94.4L468 100L451.8 105.7L457 110L460.7 114.5" fill="none" stroke="#d3cdbf" stroke-width="3.4" stroke-linejoin="round" stroke-linecap="round"/>
<path d="M443 63.3L454.4 70.3L474.6 74L462 82L443 91.8L465 93.5L483.5 94.4L468 100L451.8 105.7L457 110L460.7 114.5" fill="none" stroke="#efebe1" stroke-width="1.6" stroke-linejoin="round" stroke-linecap="round"/>
<path d="M297.2 74C297.7 75.7 299 80.3 300 84C301 87.7 302.2 92 303.2 96C304.2 100 305.1 104.2 306 108C306.9 111.8 307.9 117.2 308.3 119" fill="none" stroke="#dbc1a9" stroke-width="1.8" stroke-linecap="round"/>
<g fill="#2a4f8e" stroke="#2a4f8e" stroke-width="1.3" stroke-linejoin="round">
<path d="M221.7 162.7L224.9 160.9L227.7 159.8L231.1 159.3L234.1 159.2L237.9 159.5L246.6 161.8L259.2 164.5L263.6 164.8L268.4 164.3L272.8 163.3L280.2 161.2L291.2 157.2L299.5 154.6L306.5 151.5L310.6 150.2L327.6 148.1L340 147.5L343.1 146.3L345.3 143.7L345.9 140.4L344.7 137.3L342.1 135.1L338.8 134.5L321.5 136.8L315 138.5L304.6 142L302 143.4L299 145.7L292.8 148.4L276.8 154.7L269.9 156.8L266.2 157.7L261.7 158L254.9 157.5L248.8 156.6L239.8 154.6L235.5 154L230.7 154.1L226.3 154.8L222.4 156.5L219.3 158.5L218.4 159.4L218.1 160.6L218.4 161.8L219.3 162.7L220.5 163Z"/>
<path d="M318 147C319.6 145.2 321.4 142.8 323.7 141C326 139.2 327.9 137.5 331.6 136C335.3 134.5 342.1 133.2 345.8 132.2C349.5 131.2 350.3 130.4 353.7 129.8C357.1 129.2 363.2 128.7 366.4 128.9C369.6 129.1 371.4 130.1 372.7 131C374 131.9 374.8 133 374.3 134.5C373.8 136 371.4 138.3 369.5 140C367.6 141.7 365.8 142.9 363.2 144.5C360.6 146.1 357.6 148 353.7 149.3C349.8 150.6 344.5 151.7 339.5 152.4C334.5 153.1 327.9 153.6 323.7 153.5C319.4 153.4 314.9 153.1 314 152C313.1 150.9 316.4 148.8 318 147Z"/>
<path d="M513.6 124.4C513.9 123.6 516.5 123.5 520 123.6C523.5 123.7 530 124.4 534.3 125C538.6 125.6 543 126.3 546 127.3C549 128.3 550.7 129.7 552 131C553.3 132.3 554 133.7 554 135C554 136.3 553.2 137.9 552 139C550.8 140.1 548.8 140.8 547 141.5C545.2 142.2 542.6 142.7 541 143C539.4 143.3 538.9 144.2 537.3 143.6C535.7 143 533.5 141.1 531.5 139.5C529.5 137.9 527.4 135.9 525.2 134C523 132.1 520.1 129.8 518.2 128.2C516.3 126.6 513.3 125.2 513.6 124.4Z"/>
<path d="M541.9 148.7C542.3 147.1 544.9 144.1 547.4 141.6C549.9 139.1 553.7 135.6 556.9 133.9C560.1 132.2 563.2 131.5 566.4 131.5C569.6 131.5 572.2 132.7 575.9 133.7C579.6 134.7 584.3 136.7 588.5 137.7C592.7 138.7 597.3 138.4 601 139.5C604.7 140.6 607.4 142.3 610.6 144C613.8 145.7 616.8 147.8 620 149.5C623.2 151.2 626.4 152.9 629.6 154.3C632.8 155.7 635.6 155.9 639 157.8C642.4 159.7 648.2 162.5 650 165.5C651.8 168.5 652.3 175.2 650 175.6C647.7 176 640.5 170.2 636 167.7C631.5 165.2 627.5 163 623.3 160.6C619.1 158.2 614.8 155.6 610.6 153.5C606.4 151.4 601.9 149.1 598 148C594.1 146.9 591.5 146.8 587 147C582.5 147.2 576.3 148.8 571 149.5C565.7 150.2 559.6 151.2 555.3 151.4C551 151.7 547.2 151.4 545 151C542.8 150.6 541.5 150.3 541.9 148.7Z"/>
<path d="M634.8 143.8L646.4 145.7L669.6 150.1L675.9 151L689.8 152.4L703.4 152.8L714.5 154.2L726.1 156.8L764.2 166.6L765.9 166.6L767.4 165.7L768.2 164.2L768.2 162.5L767.3 161L765.8 160.2L726.8 150L716.8 147.7L705.1 145.9L690.3 145.2L680 144.1L670.9 142.8L657 140.2L637 136.8L634.5 136.6L633 136.7L631.2 137.4L629.4 138.8L628.1 140.8L627.4 142.7L627.1 144.7L627.3 146.6L627.8 148.4L629.3 151.2L636.8 160.7L638.5 161.9L640.7 162.1L642.7 161.2L643.9 159.5L644.1 157.3L643.2 155.3L634.7 145.4Z"/>
<path d="M260.5 161.3L267 170.5L270.4 176.5L274.6 183.6L276.3 187L277.7 190.4L278.8 194.6L279.3 198.1L279.3 201.7L279 206.2L277.8 210.8L275.8 216.7L271.2 227.8L269.3 234L268.2 239.1L264.3 263.4L262.4 278.7L257.8 310.8L257.9 311.5L258.4 312.2L259.1 312.5L259.8 312.4L260.5 311.9L260.8 311.2L265.7 284.5L270.1 259L274.1 240.3L275.3 235.7L276.6 231.9L278.5 227.3L281.8 220.4L285.6 211L287.1 204.3L287.5 199L287.3 194.4L286.8 191L285.9 187.7L284.6 184.4L282.1 179.3L272.5 164.2L266.5 156.7L264.9 155.5L263 155.3L261.2 156L260 157.6L259.8 159.5Z"/>
<path d="M283.2 197.3L278.7 197L274.6 197.2L268.4 198.7L263 200.6L258.8 202.7L245.2 212.1L241.9 213.7L238.3 215L234.6 216L230.7 216.7L199.7 220.7L198.6 221.2L197.9 222.1L197.7 223.3L198.2 224.4L199.1 225.1L200.3 225.3L231.4 221.2L235.6 220.5L240.7 219.1L244.6 217.7L247.6 216.3L260.5 207.5L264.8 205.2L269.8 203.6L275.4 202.4L278.5 202.2L282.8 202.7L284.2 202.4L285.2 201.5L285.7 200.2L285.4 198.8L284.5 197.8Z"/>
<path d="M633.2 164L642 171L644.7 173.7L647 176.3L649.7 180.7L653.3 189L658.4 197.5L660.8 200.9L661.9 202L664.1 203.7L668.5 205.6L675.7 207.4L680 208L690.6 208.8L697.7 210.1L703.7 211.5L708.8 213.4L714.9 217.2L716.3 217.7L717.8 217.4L718.9 216.4L719.4 215L719.1 213.5L718.1 212.4L713 208.5L709.2 206.5L702.4 204.4L693.8 202.4L689.3 201.8L679.6 201L676 200.3L671.8 199.2L668 197.4L667 196.6L666.1 195.4L662.1 187.9L660 183.5L658.2 178.3L656.5 174.7L653.4 170.1L649.5 165.8L646 162.7L638.8 157L636.7 156.1L634.4 156.3L632.5 157.7L631.6 159.8L631.8 162.1Z"/>
<path d="M211.8 81L233.9 78.1L239.4 77.1L245.5 75.2L257.1 70.2L259.6 69.6L261.1 69.8L266.3 71.5L272.2 72.4L274.9 72L276 71.6L278.1 70.4L282.5 67.3L283.9 66.9L287 67.5L291.2 66.9L293.3 66.9L301.5 69.4L306.1 69.7L311.8 69.3L317.3 68.5L323.4 66.3L329.1 64.7L330.7 64.8L334.5 65.9L338 66.4L345.7 66.4L346 66.4L346.4 65.7L346.1 65.1L345.7 65L336.2 64L331.2 62.2L329.9 62.1L325.7 62.8L316.6 65.8L312.6 66.4L307.1 66.9L302.1 66.6L295.9 64.3L293.7 63.7L290.9 63.6L287 64.1L283.6 63.7L281.9 64.1L280.9 64.6L275.5 68.5L273.2 69.3L271.2 69.3L266.9 68.5L261.9 66.8L259.4 66.4L258.2 66.6L255.9 67.3L245.4 72L238.7 74.4L233.5 75.5L212 79.5L211.4 80L211.3 80.4Z"/>
<path d="M286.8 65.1L292.6 85.3L297.2 103.1L299.4 113.9L303.9 139.7L304.9 148.6L305.8 150.5L307.5 151.8L309.6 152.1L311.5 151.2L312.8 149.5L313.1 147.4L311.2 136.5L304.3 104.5L300.4 90.7L295.7 76.8L290.4 63.9L289.8 63.1L289 62.6L288 62.7L287.2 63.3L286.7 64.1Z"/>
<path d="M358 133.3L355.9 130.2L354.7 127.6L351.2 117L348.8 107.2L348.3 103.5L348.6 101.9L353.1 94.3L354 92L354.1 90.7L353.7 89.2L352.8 87.9L351.4 86.3L350.5 85.9L349.7 86.5L349.6 87L351.3 90.2L351.3 91.3L348.7 95.4L345.3 98.9L343.5 102.6L342.9 105.2L343.5 113.1L346.8 131.4L347 136.7L348.6 139.2L351.2 140.6L354.2 140.5L356.7 138.9L358.1 136.3Z"/>
<path d="M346.5 103.9L347.6 103.4L348.8 103.4L352.6 106L355 106.9L358.7 107L362.4 106.4L366.7 104.8L380.5 97.7L385.7 94.8L388.9 93.4L394.3 91.6L400.6 89.8L421 85.3L421.4 84.7L420.8 84.3L405.5 86.9L395.8 89.2L389.9 90.8L383.8 93.2L365.5 102.4L361.7 103.8L358.5 104.4L355.6 104.3L353.9 103.6L350.4 101.1L349.2 100.6L347.1 100.7L345.3 101.8L345.1 102.5L345.3 103.2L345.8 103.7Z"/>
<path d="M378.8 98L387.1 99.4L397.4 99.8L403.8 99.6L414.4 98.1L418.2 98L422.3 99L434.1 103.2L436.7 103.5L442.2 103.5L442.7 103L442.2 102.5L436.8 102.1L433.5 101.5L427.8 99L422.9 97.3L418.4 96.1L414.2 96.2L403.6 97.6L397.4 97.8L387.3 97.3L379.2 96L378.6 96L378 96.8L378 97.4Z"/>
</g><g fill="#3e68a8">
<path d="M221.7 162.7L224.9 160.9L227.7 159.8L231.1 159.3L234.1 159.2L237.9 159.5L246.6 161.8L259.2 164.5L263.6 164.8L268.4 164.3L272.8 163.3L280.2 161.2L291.2 157.2L299.5 154.6L306.5 151.5L310.6 150.2L327.6 148.1L340 147.5L343.1 146.3L345.3 143.7L345.9 140.4L344.7 137.3L342.1 135.1L338.8 134.5L321.5 136.8L315 138.5L304.6 142L302 143.4L299 145.7L292.8 148.4L276.8 154.7L269.9 156.8L266.2 157.7L261.7 158L254.9 157.5L248.8 156.6L239.8 154.6L235.5 154L230.7 154.1L226.3 154.8L222.4 156.5L219.3 158.5L218.4 159.4L218.1 160.6L218.4 161.8L219.3 162.7L220.5 163Z"/>
<path d="M318 147C319.6 145.2 321.4 142.8 323.7 141C326 139.2 327.9 137.5 331.6 136C335.3 134.5 342.1 133.2 345.8 132.2C349.5 131.2 350.3 130.4 353.7 129.8C357.1 129.2 363.2 128.7 366.4 128.9C369.6 129.1 371.4 130.1 372.7 131C374 131.9 374.8 133 374.3 134.5C373.8 136 371.4 138.3 369.5 140C367.6 141.7 365.8 142.9 363.2 144.5C360.6 146.1 357.6 148 353.7 149.3C349.8 150.6 344.5 151.7 339.5 152.4C334.5 153.1 327.9 153.6 323.7 153.5C319.4 153.4 314.9 153.1 314 152C313.1 150.9 316.4 148.8 318 147Z"/>
<path d="M513.6 124.4C513.9 123.6 516.5 123.5 520 123.6C523.5 123.7 530 124.4 534.3 125C538.6 125.6 543 126.3 546 127.3C549 128.3 550.7 129.7 552 131C553.3 132.3 554 133.7 554 135C554 136.3 553.2 137.9 552 139C550.8 140.1 548.8 140.8 547 141.5C545.2 142.2 542.6 142.7 541 143C539.4 143.3 538.9 144.2 537.3 143.6C535.7 143 533.5 141.1 531.5 139.5C529.5 137.9 527.4 135.9 525.2 134C523 132.1 520.1 129.8 518.2 128.2C516.3 126.6 513.3 125.2 513.6 124.4Z"/>
<path d="M541.9 148.7C542.3 147.1 544.9 144.1 547.4 141.6C549.9 139.1 553.7 135.6 556.9 133.9C560.1 132.2 563.2 131.5 566.4 131.5C569.6 131.5 572.2 132.7 575.9 133.7C579.6 134.7 584.3 136.7 588.5 137.7C592.7 138.7 597.3 138.4 601 139.5C604.7 140.6 607.4 142.3 610.6 144C613.8 145.7 616.8 147.8 620 149.5C623.2 151.2 626.4 152.9 629.6 154.3C632.8 155.7 635.6 155.9 639 157.8C642.4 159.7 648.2 162.5 650 165.5C651.8 168.5 652.3 175.2 650 175.6C647.7 176 640.5 170.2 636 167.7C631.5 165.2 627.5 163 623.3 160.6C619.1 158.2 614.8 155.6 610.6 153.5C606.4 151.4 601.9 149.1 598 148C594.1 146.9 591.5 146.8 587 147C582.5 147.2 576.3 148.8 571 149.5C565.7 150.2 559.6 151.2 555.3 151.4C551 151.7 547.2 151.4 545 151C542.8 150.6 541.5 150.3 541.9 148.7Z"/>
<path d="M634.8 143.8L646.4 145.7L669.6 150.1L675.9 151L689.8 152.4L703.4 152.8L714.5 154.2L726.1 156.8L764.2 166.6L765.9 166.6L767.4 165.7L768.2 164.2L768.2 162.5L767.3 161L765.8 160.2L726.8 150L716.8 147.7L705.1 145.9L690.3 145.2L680 144.1L670.9 142.8L657 140.2L637 136.8L634.5 136.6L633 136.7L631.2 137.4L629.4 138.8L628.1 140.8L627.4 142.7L627.1 144.7L627.3 146.6L627.8 148.4L629.3 151.2L636.8 160.7L638.5 161.9L640.7 162.1L642.7 161.2L643.9 159.5L644.1 157.3L643.2 155.3L634.7 145.4Z"/>
<path d="M260.5 161.3L267 170.5L270.4 176.5L274.6 183.6L276.3 187L277.7 190.4L278.8 194.6L279.3 198.1L279.3 201.7L279 206.2L277.8 210.8L275.8 216.7L271.2 227.8L269.3 234L268.2 239.1L264.3 263.4L262.4 278.7L257.8 310.8L257.9 311.5L258.4 312.2L259.1 312.5L259.8 312.4L260.5 311.9L260.8 311.2L265.7 284.5L270.1 259L274.1 240.3L275.3 235.7L276.6 231.9L278.5 227.3L281.8 220.4L285.6 211L287.1 204.3L287.5 199L287.3 194.4L286.8 191L285.9 187.7L284.6 184.4L282.1 179.3L272.5 164.2L266.5 156.7L264.9 155.5L263 155.3L261.2 156L260 157.6L259.8 159.5Z"/>
<path d="M283.2 197.3L278.7 197L274.6 197.2L268.4 198.7L263 200.6L258.8 202.7L245.2 212.1L241.9 213.7L238.3 215L234.6 216L230.7 216.7L199.7 220.7L198.6 221.2L197.9 222.1L197.7 223.3L198.2 224.4L199.1 225.1L200.3 225.3L231.4 221.2L235.6 220.5L240.7 219.1L244.6 217.7L247.6 216.3L260.5 207.5L264.8 205.2L269.8 203.6L275.4 202.4L278.5 202.2L282.8 202.7L284.2 202.4L285.2 201.5L285.7 200.2L285.4 198.8L284.5 197.8Z"/>
<path d="M633.2 164L642 171L644.7 173.7L647 176.3L649.7 180.7L653.3 189L658.4 197.5L660.8 200.9L661.9 202L664.1 203.7L668.5 205.6L675.7 207.4L680 208L690.6 208.8L697.7 210.1L703.7 211.5L708.8 213.4L714.9 217.2L716.3 217.7L717.8 217.4L718.9 216.4L719.4 215L719.1 213.5L718.1 212.4L713 208.5L709.2 206.5L702.4 204.4L693.8 202.4L689.3 201.8L679.6 201L676 200.3L671.8 199.2L668 197.4L667 196.6L666.1 195.4L662.1 187.9L660 183.5L658.2 178.3L656.5 174.7L653.4 170.1L649.5 165.8L646 162.7L638.8 157L636.7 156.1L634.4 156.3L632.5 157.7L631.6 159.8L631.8 162.1Z"/>
<path d="M211.8 81L233.9 78.1L239.4 77.1L245.5 75.2L257.1 70.2L259.6 69.6L261.1 69.8L266.3 71.5L272.2 72.4L274.9 72L276 71.6L278.1 70.4L282.5 67.3L283.9 66.9L287 67.5L291.2 66.9L293.3 66.9L301.5 69.4L306.1 69.7L311.8 69.3L317.3 68.5L323.4 66.3L329.1 64.7L330.7 64.8L334.5 65.9L338 66.4L345.7 66.4L346 66.4L346.4 65.7L346.1 65.1L345.7 65L336.2 64L331.2 62.2L329.9 62.1L325.7 62.8L316.6 65.8L312.6 66.4L307.1 66.9L302.1 66.6L295.9 64.3L293.7 63.7L290.9 63.6L287 64.1L283.6 63.7L281.9 64.1L280.9 64.6L275.5 68.5L273.2 69.3L271.2 69.3L266.9 68.5L261.9 66.8L259.4 66.4L258.2 66.6L255.9 67.3L245.4 72L238.7 74.4L233.5 75.5L212 79.5L211.4 80L211.3 80.4Z"/>
<path d="M286.8 65.1L292.6 85.3L297.2 103.1L299.4 113.9L303.9 139.7L304.9 148.6L305.8 150.5L307.5 151.8L309.6 152.1L311.5 151.2L312.8 149.5L313.1 147.4L311.2 136.5L304.3 104.5L300.4 90.7L295.7 76.8L290.4 63.9L289.8 63.1L289 62.6L288 62.7L287.2 63.3L286.7 64.1Z"/>
<path d="M358 133.3L355.9 130.2L354.7 127.6L351.2 117L348.8 107.2L348.3 103.5L348.6 101.9L353.1 94.3L354 92L354.1 90.7L353.7 89.2L352.8 87.9L351.4 86.3L350.5 85.9L349.7 86.5L349.6 87L351.3 90.2L351.3 91.3L348.7 95.4L345.3 98.9L343.5 102.6L342.9 105.2L343.5 113.1L346.8 131.4L347 136.7L348.6 139.2L351.2 140.6L354.2 140.5L356.7 138.9L358.1 136.3Z"/>
<path d="M346.5 103.9L347.6 103.4L348.8 103.4L352.6 106L355 106.9L358.7 107L362.4 106.4L366.7 104.8L380.5 97.7L385.7 94.8L388.9 93.4L394.3 91.6L400.6 89.8L421 85.3L421.4 84.7L420.8 84.3L405.5 86.9L395.8 89.2L389.9 90.8L383.8 93.2L365.5 102.4L361.7 103.8L358.5 104.4L355.6 104.3L353.9 103.6L350.4 101.1L349.2 100.6L347.1 100.7L345.3 101.8L345.1 102.5L345.3 103.2L345.8 103.7Z"/>
<path d="M378.8 98L387.1 99.4L397.4 99.8L403.8 99.6L414.4 98.1L418.2 98L422.3 99L434.1 103.2L436.7 103.5L442.2 103.5L442.7 103L442.2 102.5L436.8 102.1L433.5 101.5L427.8 99L422.9 97.3L418.4 96.1L414.2 96.2L403.6 97.6L397.4 97.8L387.3 97.3L379.2 96L378.6 96L378 96.8L378 97.4Z"/>
</g>
<g fill="#6f95cc" opacity="0.5" transform="translate(-0.5,-0.6)">
<path d="M220.8 161.2L225 158.8L227.2 158L230.9 157.4L234.2 157.3L238.2 157.7L248.1 160.1L258.4 162L263.5 162.4L268 161.9L278.3 159L297.5 152.2L301.4 150.6L305.8 148.2L308.9 147.1L315.4 145.6L324.8 144L339.6 142.8L340.4 142.5L341 141.8L341.2 140.8L340.9 140L340.2 139.4L339.2 139.2L324.4 140.7L313.7 142.9L305.9 145.2L299.3 148.9L279.6 156.4L271.6 159L266.6 160.1L262.5 160.5L257.6 160.1L248.4 158.5L238.5 156.2L233 155.8L227.8 156.4L224.4 157.5L219.9 160.3L219.9 160.9L220.2 161.2Z"/>
<path d="M765.2 162.5L724.3 151.9L716.3 150.1L709.6 149L702.8 148.2L689.1 147.7L677.5 146.5L670.4 145.4L653.5 142.3L635.5 139.3L633.5 139.3L632.5 139.6L631.3 140.5L630.5 141.8L630 143.3L630 146.2L630.9 148.4L636.7 155.9L639.6 159.1L640.2 159.2L640.7 158.9L641.1 158.4L641.2 157.8L640.9 157.3L633.3 148.1L632.3 146.5L632 144.8L632.1 143.7L632.8 141.9L633.5 141.4L634.5 141.2L636.3 141.4L670.1 147.4L677.3 148.5L690 149.8L703.7 150.3L712.1 151.3L724.8 154L764.8 164.3L765.2 164.3L765.9 163.6L765.9 163.2Z"/>
<path d="M262.7 159.6L269.4 168.9L278.7 184.7L280.3 188.5L281.5 192.2L282.1 196L282.2 200.9L281.9 205.7L280.7 210.6L278.1 217.6L273.1 229.6L271.5 234.6L270.3 239.5L266 263.7L258.9 310.9L259.2 311.4L259.7 311.1L268.1 259.8L272 239.9L273.1 235.1L274.8 230.2L276.3 226.4L279.5 219.4L283 210.3L284.1 205L284.5 200L284.3 194.8L283.6 190.7L282.2 186.6L279.9 181.8L271.3 167.7L267.2 162L263.9 158L262.9 158.2L262.5 158.6Z"/>
<path d="M283.4 199.4L278.7 198.9L274.9 199.1L268.9 200.5L263.6 202.3L258.8 204.8L246.1 213.6L242.5 215.3L237.8 216.9L230.9 218.3L199.9 222.4L199.4 222.8L199.4 223.1L199.8 223.6L200.1 223.6L222.6 220.8L232.8 219.3L239.2 217.8L243 216.5L246.7 214.8L259.5 206L263.3 203.9L269.3 201.9L275.1 200.5L277.5 200.3L283.3 200.7L283.8 200.1Z"/>
<path d="M635.2 161.5L644.9 169.3L649.6 174.4L652.1 178.4L656 187.7L660.8 196.2L662.9 199.1L665.5 201.4L669.4 203.2L676.2 205L680.2 205.5L691 206.4L697.2 207.5L703.4 209L706.9 210.1L709.9 211.3L716 215.5L716.4 215.6L717.2 215.3L717.3 214.9L717 214.1L712.8 211L709.6 209.2L705.8 207.8L699.7 206.2L692.4 204.7L676.6 203L671 201.6L666.6 199.6L665.1 198.5L663.3 196L658.1 186.6L654.3 177.3L652.7 174.6L650.3 171.3L645.8 166.7L636.8 159.5L636.2 159.3L635.5 159.3L635 159.7L634.8 160.3L634.8 161Z"/>
<path d="M288.1 64.7L294.3 83.8L299 100.6L302 114.4L306.6 139.2L307.9 148.2L308.1 148.7L308.6 149.1L309.2 149.1L309.7 148.9L310.1 148.4L310.1 147.8L309 140L303.7 113L301.7 104L298.3 91.3L293.5 76.4L289.1 64.3L288.4 64Z"/>
<path d="M354 134.5L352.2 129.9L349 118.6L347.1 110.2L346.6 106.6L346.6 103.2L347.2 101.3L351 95.7L353 91.8L353.2 90.8L352.8 89.5L350.6 86.6L350.4 87.1L352.2 89.8L352.4 90.8L352.3 91.6L350.2 95.3L347.3 98.8L346 100.7L345.1 104L345.1 107.5L346.2 115L351 135.5L351.4 136.2L352.1 136.6L353 136.5L353.7 136.1L354.1 135.4Z"/>
</g>
</g>
<rect x="200" y="392" width="560" height="111" fill="url(#fade)"/><rect x="200" y="502" width="560" height="20" fill="#fff"/>
<g fill="none" stroke="#000" stroke-width="2">
<path d="M292 62.8L267 15.8L345 101.5"/>
<path d="M548.7 15.8L476.5 157.5"/>
<path d="M658.6 99.5H777"/>
<path d="M735.8 147.3L777 160L735.8 177.6"/>
<path d="M742 187.4L777 190.5"/>
<path d="M777 246.6H572L523.9 166.7"/>
<path d="M473.3 314.7H777"/>
<path d="M552.5 354H777"/>
<path d="M149.7 163.3L228.9 190"/>
<path d="M126.5 213.3H185.4M208.6 196.2H185.4V229.8H208.6"/>
<path d="M93.6 276.4L234 228"/>
<path d="M339 183L191 307.5L375.8 197.8"/>
<path d="M121.4 364.4L258.7 299.5"/>
</g>
<g font-family="'Liberation Sans', Arial, Helvetica, sans-serif" font-size="18.65" fill="#000" stroke="#000" stroke-width="0.2">
<text x="216.6" y="20">Veins</text>
<text x="555" y="20">Superior sagittal sinus</text>
<text x="785" y="106">Bone</text>
<text x="785" y="165.4">Dura mater</text>
<text x="785" y="198">Subdural space</text>
<text x="785" y="253">Arachnoid</text>
<text x="785" y="274.2">granulation villi</text>
<text x="785" y="321">Longitudinal fissure</text>
<text x="785" y="360">Cerebral cortex</text>
<text x="7" y="170.8">Arachnoid mater</text>
<text x="7" y="219.5">Subarachnoid</text>
<text x="7" y="240.2">space</text>
<text x="7" y="281.3">Pia mater</text>
<text x="7" y="317">Arachnoid trabeculae</text>
<text x="7" y="372">Cerebral vein</text>
</g>
</svg>
</body></html>
